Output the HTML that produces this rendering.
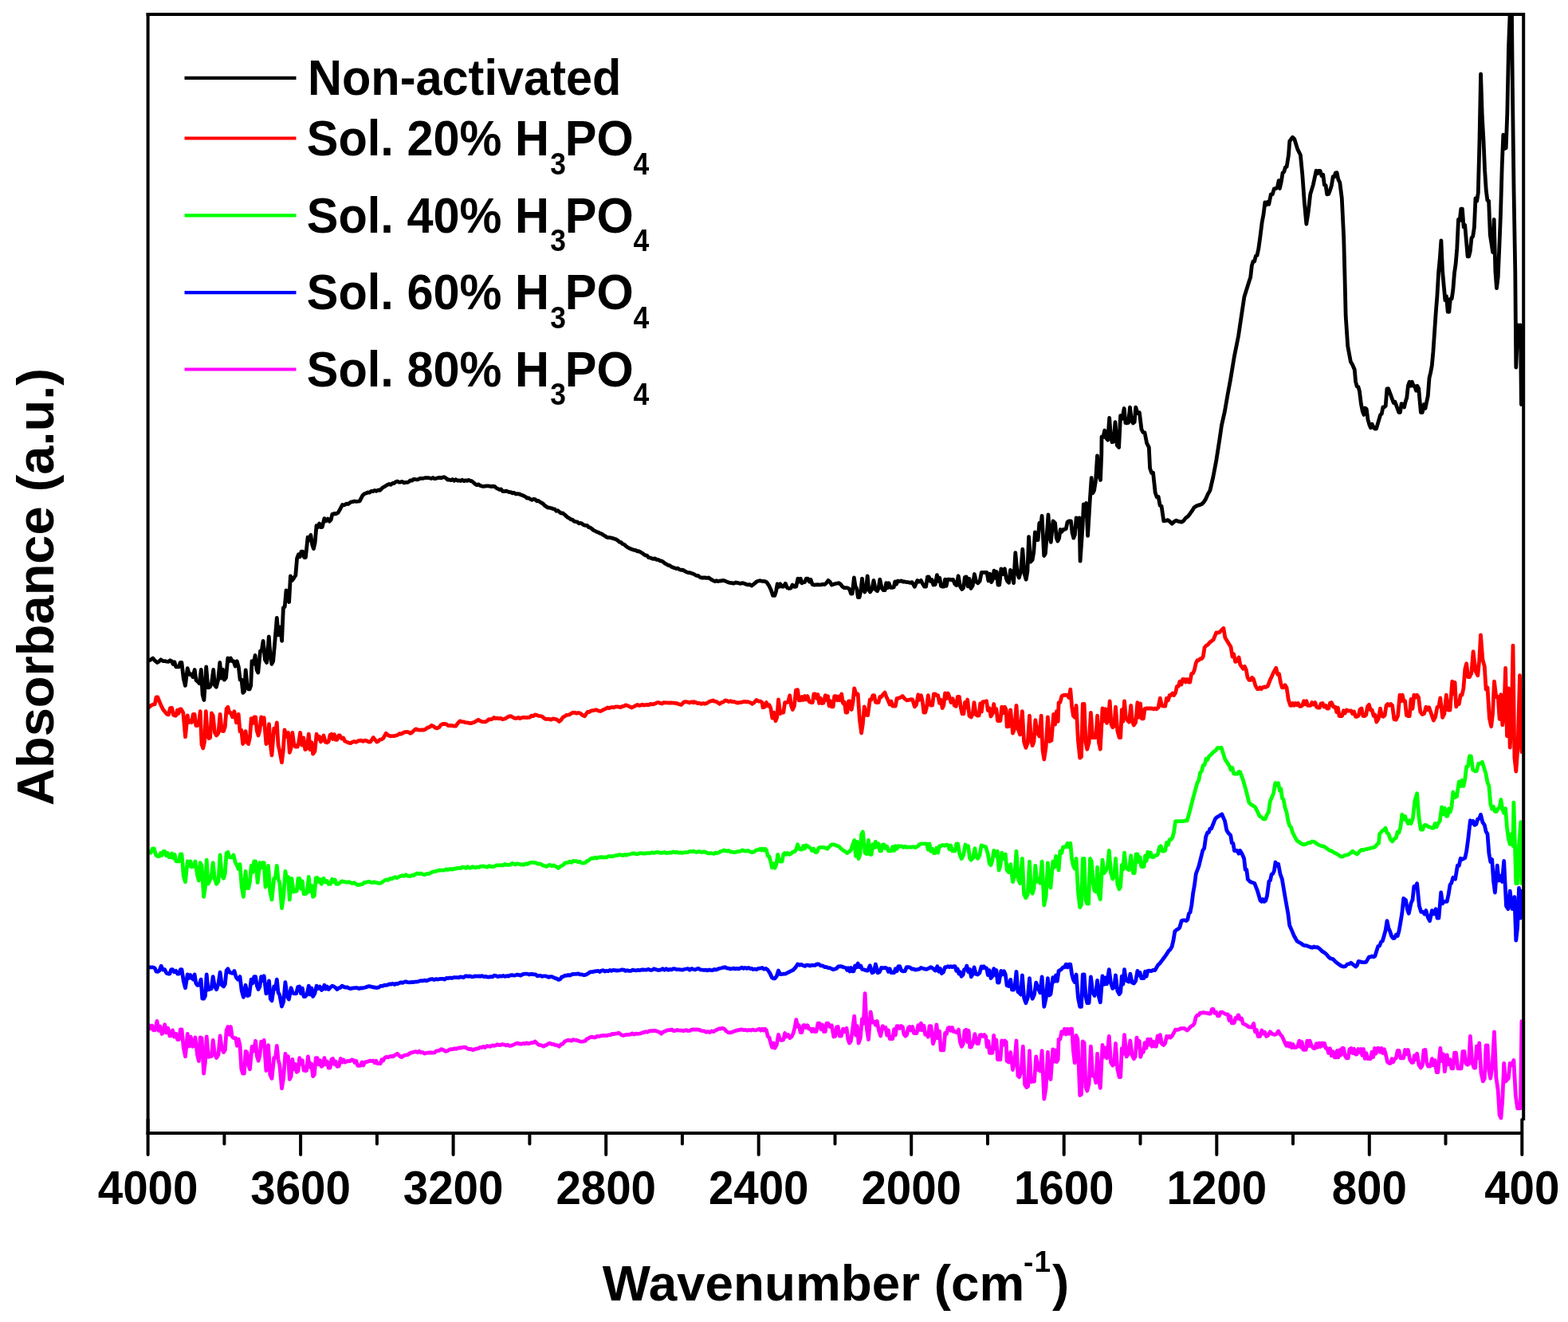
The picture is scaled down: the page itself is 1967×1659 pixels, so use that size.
<!DOCTYPE html>
<html><head><meta charset="utf-8"><style>
html,body{margin:0;padding:0;background:#fff;overflow:hidden;}
svg{display:block;}
text{font-family:"Liberation Sans",Arial,sans-serif;font-weight:bold;fill:#000;}
</style></head><body>
<svg width="1967" height="1659" viewBox="0 0 1967 1659">
<rect width="1967" height="1659" fill="#fff"/>
<defs><clipPath id="pc"><rect x="186" y="18" width="1725" height="1404"/></clipPath></defs>

<g clip-path="url(#pc)" fill="none" stroke-linejoin="round" stroke-linecap="round">
<path d="M187.1,1286.7 188.9,1290.8 190.7,1287.2 192.5,1292.9 194.7,1292.6 196.9,1281.4 199.0,1293.3 201.1,1288.1 203.1,1297.4 204.9,1295.4 206.7,1285.8 208.8,1296.0 210.8,1290.2 212.9,1300.0 214.7,1299.6 216.5,1292.9 218.6,1301.1 220.6,1297.2 222.7,1304.5 224.5,1304.5 226.3,1292.0 228.0,1292.0 230.3,1315.1 232.5,1325.8 235.2,1297.4 237.2,1313.2 239.3,1301.2 241.4,1313.4 243.2,1312.3 244.9,1301.8 247.6,1324.1 249.4,1331.5 251.2,1301.8 253.0,1302.7 255.6,1347.2 257.4,1332.8 259.2,1300.9 261.4,1326.4 263.6,1325.8 265.4,1325.5 267.2,1305.4 269.4,1322.5 271.6,1327.6 273.9,1323.7 276.1,1300.0 278.3,1316.2 280.5,1320.5 282.3,1317.7 284.1,1293.2 285.9,1288.5 287.7,1298.4 289.4,1288.5 291.2,1300.9 293.4,1302.7 295.7,1302.7 297.4,1312.3 299.2,1304.2 301.0,1311.6 302.8,1341.3 304.6,1347.2 306.3,1347.2 308.1,1319.3 309.9,1320.5 311.7,1336.8 313.5,1341.9 316.1,1313.4 318.3,1319.0 320.6,1306.3 322.3,1325.0 324.1,1331.2 325.9,1324.3 327.7,1307.2 329.5,1311.9 331.2,1305.4 333.9,1343.6 336.6,1311.6 338.8,1348.8 341.0,1353.4 343.7,1327.6 345.5,1327.0 347.3,1312.5 349.0,1329.6 350.8,1336.5 353.5,1365.9 355.7,1352.0 357.9,1322.3 359.7,1331.1 361.5,1325.8 363.3,1354.3 365.1,1350.8 366.8,1329.4 368.6,1341.9 370.4,1335.3 372.2,1345.4 374.0,1344.0 375.7,1327.6 377.5,1335.5 379.3,1330.8 381.1,1343.1 382.8,1343.6 384.6,1343.6 386.4,1325.8 388.5,1339.1 390.6,1334.8 392.6,1350.7 394.4,1348.5 396.2,1327.6 398.0,1327.6 399.8,1335.9 401.5,1330.6 403.3,1338.3 405.1,1336.8 406.9,1327.6 408.6,1335.8 410.4,1332.1 412.2,1340.1 414.0,1340.1 415.8,1329.6 417.5,1328.5 419.3,1335.4 421.1,1332.1 422.9,1338.3 425.1,1337.9 427.3,1328.5 429.1,1333.0 430.9,1329.9 432.7,1333.0 434.8,1332.1 436.9,1331.3 439.1,1331.6 441.2,1330.0 443.3,1330.3 445.1,1333.5 446.9,1331.5 448.7,1337.4 450.5,1337.4 452.2,1337.4 454.0,1333.0 455.8,1336.9 457.6,1333.0 459.7,1332.7 461.9,1332.0 464.0,1331.1 466.1,1331.5 468.3,1331.2 470.0,1333.8 471.8,1331.3 473.6,1334.7 475.4,1334.7 477.2,1334.7 478.9,1329.7 480.7,1330.9 482.5,1327.6 484.6,1326.4 486.8,1326.8 488.9,1325.8 491.0,1325.5 493.2,1325.8 495.8,1323.9 498.5,1322.3 501.2,1325.1 503.8,1326.7 506.0,1325.0 508.1,1324.1 510.2,1323.8 512.4,1323.3 514.5,1321.4 516.9,1320.9 519.3,1320.0 521.6,1319.6 523.7,1320.7 525.8,1319.2 527.9,1320.9 530.0,1320.5 532.5,1322.1 534.6,1321.5 536.7,1321.1 538.9,1320.8 541.0,1321.0 543.1,1321.2 545.3,1320.9 547.4,1318.8 549.5,1318.7 551.7,1317.9 553.8,1316.7 556.5,1317.8 559.1,1319.4 561.4,1318.8 563.6,1317.3 565.8,1316.6 568.0,1316.7 570.1,1315.8 572.1,1316.3 574.1,1315.5 576.2,1314.9 578.2,1315.0 580.2,1314.4 582.3,1314.1 584.4,1314.4 586.5,1316.0 588.7,1316.6 590.8,1316.4 593.0,1317.6 595.2,1316.9 597.4,1316.1 599.6,1315.9 601.9,1314.4 604.1,1314.6 606.3,1313.5 608.5,1314.5 610.7,1312.7 613.0,1312.9 615.2,1313.3 617.4,1311.9 619.6,1312.3 621.8,1311.9 623.9,1310.7 626.0,1311.5 628.2,1311.3 630.3,1310.5 632.5,1311.0 634.6,1311.9 636.7,1311.2 638.9,1312.3 641.0,1312.3 643.4,1311.4 645.7,1310.4 648.1,1309.3 650.1,1309.2 652.2,1310.0 654.2,1310.2 656.2,1309.4 658.3,1309.8 660.3,1308.8 662.3,1309.6 664.6,1309.3 666.8,1308.5 669.0,1308.5 671.2,1306.9 673.9,1309.7 676.6,1311.4 679.3,1311.9 681.9,1313.2 684.0,1311.8 686.1,1311.1 688.1,1309.6 690.2,1309.2 692.2,1310.4 694.2,1310.3 696.2,1311.4 698.8,1311.6 701.5,1313.2 703.7,1310.6 705.9,1310.1 708.2,1307.2 710.4,1306.0 712.5,1305.4 714.7,1305.5 716.8,1306.2 718.9,1304.6 721.1,1305.2 723.2,1305.4 725.3,1306.0 727.5,1306.9 729.6,1307.2 731.7,1306.9 734.0,1306.3 736.2,1303.9 738.4,1302.8 740.6,1301.6 742.8,1301.2 744.9,1301.9 747.0,1301.9 749.2,1300.3 751.3,1300.7 753.4,1299.9 755.4,1299.7 757.4,1299.5 759.5,1299.7 761.5,1299.6 763.5,1298.8 765.6,1298.9 767.7,1297.5 769.8,1297.7 772.0,1297.1 774.1,1296.9 776.2,1296.3 779.8,1298.9 782.0,1299.5 784.2,1298.8 786.5,1298.3 788.7,1298.3 790.9,1298.1 793.1,1296.8 795.4,1298.1 797.6,1297.2 799.7,1297.4 801.7,1297.2 803.8,1296.8 805.9,1295.8 808.0,1295.5 810.0,1294.7 812.1,1295.3 814.2,1294.0 816.3,1293.7 818.3,1293.7 820.4,1293.3 822.5,1293.6 824.9,1294.5 827.2,1295.2 829.6,1297.2 831.8,1295.1 834.1,1294.3 836.3,1293.1 838.5,1292.7 840.7,1292.6 842.9,1292.0 845.0,1293.7 847.2,1293.3 849.4,1292.6 851.6,1292.9 853.7,1293.1 855.9,1293.3 858.1,1293.6 860.5,1292.6 862.8,1293.5 865.2,1293.4 867.6,1292.1 870.0,1291.8 872.3,1292.2 874.5,1291.9 876.8,1292.3 879.1,1293.2 881.4,1293.8 883.6,1293.9 885.8,1295.3 888.0,1294.6 890.2,1295.6 892.6,1293.9 895.0,1294.7 897.4,1293.0 899.6,1292.3 901.8,1291.0 904.0,1291.0 906.3,1290.3 908.6,1291.2 911.0,1293.9 913.4,1295.6 915.6,1296.0 917.8,1295.4 920.1,1294.6 922.3,1293.8 924.5,1293.0 926.7,1292.7 929.0,1291.9 931.2,1292.1 933.3,1292.7 935.4,1292.5 937.6,1293.1 939.7,1292.5 941.9,1293.0 944.0,1292.1 946.1,1292.8 948.3,1292.8 950.4,1292.2 952.5,1291.2 954.3,1293.0 956.1,1291.2 957.9,1293.0 959.6,1291.2 961.4,1293.0 963.2,1300.5 965.0,1302.1 966.8,1309.0 968.5,1314.4 970.3,1309.0 972.1,1315.2 974.3,1311.1 976.5,1298.3 978.8,1305.1 981.0,1305.4 982.8,1304.8 984.6,1296.5 986.6,1300.9 988.7,1298.6 990.8,1302.7 993.0,1300.9 995.2,1296.5 997.0,1289.6 998.8,1279.6 1000.6,1288.2 1002.3,1286.9 1004.1,1295.6 1005.9,1295.6 1007.7,1286.7 1009.5,1286.7 1011.2,1289.7 1013.0,1286.7 1014.8,1291.2 1016.6,1291.2 1018.4,1294.4 1020.1,1291.2 1021.9,1294.7 1024.0,1294.5 1026.1,1284.1 1028.1,1284.1 1029.9,1291.7 1031.7,1286.0 1033.5,1294.7 1035.3,1294.7 1037.0,1284.1 1038.8,1284.1 1041.0,1288.4 1043.3,1286.7 1045.9,1301.0 1047.7,1300.5 1049.5,1288.9 1051.3,1288.5 1053.1,1300.1 1055.3,1300.1 1057.5,1291.2 1059.7,1294.5 1062.0,1290.3 1063.7,1303.9 1065.5,1309.0 1067.3,1306.7 1069.1,1294.7 1071.7,1275.2 1073.5,1299.1 1075.3,1287.5 1077.1,1309.0 1079.3,1302.6 1081.5,1278.7 1083.3,1284.3 1085.1,1246.7 1087.3,1290.9 1089.5,1304.5 1092.2,1269.8 1094.4,1283.2 1096.7,1282.3 1098.4,1286.2 1100.2,1281.4 1102.4,1293.0 1104.7,1300.1 1107.3,1287.6 1109.1,1290.4 1110.9,1289.4 1112.7,1299.1 1114.4,1292.8 1116.2,1303.6 1118.0,1303.6 1119.8,1303.6 1121.6,1291.7 1123.3,1298.8 1125.1,1287.6 1126.9,1287.6 1128.7,1290.3 1130.5,1287.6 1132.2,1288.5 1134.0,1298.1 1135.8,1300.1 1137.6,1298.6 1139.4,1289.8 1141.1,1288.5 1142.9,1293.0 1144.7,1288.5 1146.5,1296.5 1148.3,1296.5 1150.0,1296.5 1151.8,1286.7 1153.6,1292.4 1155.4,1284.1 1157.2,1292.9 1158.9,1287.1 1160.7,1298.3 1162.5,1298.3 1164.3,1301.3 1166.0,1287.6 1167.8,1287.6 1170.5,1309.9 1172.7,1302.8 1174.9,1285.8 1176.7,1302.9 1178.5,1294.0 1180.3,1317.9 1182.1,1317.9 1183.8,1317.9 1185.6,1296.5 1187.4,1297.4 1189.2,1290.2 1191.0,1289.4 1192.7,1293.2 1194.5,1289.4 1196.3,1294.7 1198.1,1294.7 1200.3,1295.9 1202.5,1292.1 1204.3,1307.3 1206.1,1312.5 1206.4,1313.2 1208.2,1310.0 1210.1,1293.5 1211.9,1292.2 1213.5,1307.6 1215.1,1293.5 1216.7,1314.1 1218.3,1314.1 1220.6,1309.0 1222.9,1297.7 1225.6,1309.5 1227.5,1309.5 1229.3,1298.9 1231.1,1298.6 1232.9,1300.4 1234.8,1298.6 1236.6,1300.4 1238.2,1313.8 1239.8,1306.6 1241.4,1321.4 1243.0,1321.4 1244.8,1321.4 1246.7,1299.5 1248.3,1316.1 1249.9,1305.2 1251.5,1329.7 1253.1,1329.7 1254.9,1329.7 1256.7,1305.9 1258.6,1311.3 1260.4,1305.9 1262.2,1307.7 1263.1,1331.5 1265.4,1332.9 1267.7,1320.5 1270.5,1342.5 1272.8,1332.4 1275.0,1305.9 1276.9,1349.8 1278.7,1351.6 1281.0,1344.6 1283.3,1313.2 1285.6,1361.1 1287.8,1364.5 1289.7,1363.0 1291.5,1318.7 1293.3,1357.7 1295.2,1357.1 1297.5,1357.1 1299.7,1326.0 1302.5,1342.5 1304.8,1344.0 1307.1,1318.7 1309.8,1379.1 1312.1,1365.2 1314.4,1320.5 1316.2,1351.5 1318.0,1354.4 1320.8,1316.9 1322.4,1332.2 1324.0,1318.0 1325.6,1332.5 1327.2,1329.7 1328.1,1304.1 1329.9,1304.0 1331.8,1294.8 1333.6,1297.1 1335.4,1291.2 1337.3,1298.0 1339.1,1291.2 1340.9,1297.4 1342.8,1291.2 1344.6,1291.2 1346.4,1318.7 1348.2,1333.8 1350.1,1299.5 1351.9,1304.1 1354.7,1374.5 1356.5,1373.5 1358.3,1307.0 1360.1,1308.6 1362.0,1364.3 1363.8,1369.0 1366.1,1360.1 1368.4,1313.2 1370.7,1350.2 1373.0,1349.8 1374.8,1358.7 1376.6,1322.4 1378.4,1355.3 1380.3,1365.4 1383.0,1311.4 1384.9,1326.0 1386.7,1315.0 1388.5,1327.8 1391.3,1300.4 1393.5,1333.4 1395.8,1337.0 1397.7,1335.2 1399.5,1309.5 1401.8,1341.6 1404.1,1351.6 1405.7,1351.6 1407.3,1315.6 1408.9,1322.6 1410.5,1298.6 1413.2,1326.0 1415.5,1322.6 1417.8,1305.9 1420.1,1323.9 1422.4,1328.8 1424.2,1325.8 1426.0,1302.2 1427.6,1312.9 1429.2,1306.3 1430.8,1326.3 1432.4,1320.5 1434.3,1320.5 1436.1,1308.7 1437.9,1315.2 1439.8,1304.1 1441.6,1311.1 1443.4,1304.1 1445.2,1313.2 1447.1,1307.2 1448.9,1313.2 1450.5,1313.2 1452.1,1300.1 1453.7,1307.5 1455.3,1298.6 1457.6,1309.9 1459.9,1311.4 1461.7,1308.9 1463.5,1300.4 1465.1,1302.1 1466.8,1300.4 1468.4,1302.1 1470.0,1300.4 1472.2,1296.8 1474.5,1292.2 1476.7,1292.4 1478.9,1291.9 1481.1,1290.6 1483.3,1290.7 1485.5,1290.3 1489.2,1293.1 1491.6,1290.7 1494.1,1288.0 1496.5,1286.7 1498.3,1284.3 1500.2,1276.4 1502.0,1273.9 1503.8,1273.9 1505.6,1271.1 1507.5,1271.1 1509.8,1270.5 1512.0,1271.2 1514.3,1271.4 1516.6,1272.0 1518.5,1272.0 1520.3,1266.5 1522.1,1266.5 1523.9,1271.3 1525.8,1270.3 1527.6,1274.8 1529.4,1274.8 1531.3,1270.2 1533.1,1270.2 1535.5,1271.5 1538.0,1272.9 1540.4,1272.9 1542.0,1280.5 1543.6,1275.5 1545.2,1283.9 1546.8,1283.9 1548.4,1283.4 1550.0,1277.5 1551.6,1278.3 1553.2,1273.9 1553.8,1274.1 1555.6,1279.1 1557.5,1278.0 1559.4,1284.6 1561.3,1285.4 1563.8,1286.6 1566.3,1288.7 1568.8,1289.2 1570.7,1289.2 1572.6,1284.5 1574.5,1294.9 1576.3,1292.5 1578.2,1300.5 1580.6,1300.5 1582.9,1293.0 1584.8,1297.0 1586.7,1295.3 1588.6,1300.5 1590.9,1299.1 1593.3,1294.8 1596.1,1297.6 1598.9,1298.6 1601.3,1297.6 1603.6,1293.9 1606.0,1298.0 1608.3,1300.5 1612.1,1308.9 1613.7,1312.3 1615.4,1308.9 1617.0,1313.1 1618.7,1309.5 1620.3,1314.6 1621.9,1310.5 1623.6,1314.6 1625.2,1314.6 1627.6,1313.4 1629.9,1306.1 1631.6,1314.1 1633.2,1307.6 1634.9,1317.4 1636.5,1317.4 1638.2,1317.4 1639.8,1306.1 1641.5,1312.7 1643.1,1306.1 1645.5,1312.9 1647.8,1315.5 1649.5,1315.5 1651.3,1309.6 1653.0,1314.3 1654.7,1309.1 1656.4,1313.5 1658.2,1308.9 1659.8,1312.1 1661.5,1309.2 1663.1,1315.5 1664.7,1315.5 1666.6,1321.4 1668.5,1315.8 1670.4,1324.9 1672.3,1319.7 1674.1,1326.8 1675.8,1326.8 1677.4,1318.5 1679.0,1326.8 1680.6,1317.7 1682.2,1324.0 1683.8,1315.5 1685.4,1315.5 1687.3,1325.0 1689.2,1327.8 1691.1,1327.8 1693.0,1316.5 1694.8,1315.5 1696.7,1321.6 1698.6,1316.3 1700.5,1323.1 1702.1,1323.1 1703.8,1316.5 1705.4,1320.4 1707.1,1316.5 1708.8,1324.3 1710.5,1316.5 1712.2,1328.3 1714.0,1321.8 1715.7,1328.7 1717.4,1328.7 1719.2,1328.7 1720.9,1320.3 1722.7,1326.5 1724.4,1315.5 1726.1,1322.2 1727.9,1315.5 1729.6,1315.5 1731.3,1320.2 1733.0,1315.5 1734.7,1321.6 1736.4,1316.8 1738.1,1322.1 1740.5,1332.6 1742.8,1334.3 1744.5,1334.3 1746.1,1328.7 1747.7,1332.8 1749.4,1328.7 1751.3,1328.0 1753.2,1318.5 1755.0,1318.4 1756.9,1327.8 1758.8,1327.8 1760.7,1327.8 1762.6,1317.5 1764.4,1322.8 1766.3,1317.4 1768.7,1330.0 1771.0,1333.4 1772.7,1333.4 1774.3,1324.6 1776.0,1329.5 1777.6,1322.1 1780.0,1336.6 1782.3,1340.0 1784.2,1337.1 1786.1,1317.8 1788.0,1317.4 1789.8,1334.3 1791.7,1338.1 1794.1,1338.1 1796.4,1328.7 1798.3,1336.8 1800.2,1330.6 1802.1,1345.5 1803.9,1345.6 1806.8,1315.5 1808.6,1331.6 1810.5,1322.8 1812.4,1344.7 1815.2,1324.0 1817.1,1335.8 1819.0,1329.6 1820.9,1340.9 1822.8,1340.9 1824.6,1321.2 1826.5,1321.2 1828.9,1340.9 1831.2,1340.9 1833.1,1340.9 1835.0,1319.3 1836.9,1319.3 1838.7,1334.2 1840.6,1336.2 1842.5,1335.4 1844.4,1300.5 1846.7,1333.0 1849.1,1340.0 1850.7,1340.0 1852.4,1313.0 1854.0,1327.5 1855.7,1308.9 1858.0,1346.4 1860.4,1356.9 1862.3,1353.6 1864.1,1311.8 1866.0,1311.8 1867.9,1344.2 1869.8,1353.2 1872.1,1337.6 1874.5,1294.8 1876.8,1351.7 1879.2,1368.2 1881.1,1399.1 1882.9,1403.0 1884.8,1380.5 1886.7,1334.3 1888.6,1357.0 1890.5,1355.0 1892.3,1353.3 1894.2,1334.3 1896.6,1336.7 1898.9,1330.6 1901.3,1374.2 1903.6,1390.8 1905.5,1390.8 1907.4,1390.8 1908.9,1281.7" stroke="#ff00ff" stroke-width="4.8"/>
<path d="M187.1,1214.0 189.5,1213.8 191.9,1213.9 194.2,1214.9 196.0,1219.1 197.8,1219.4 200.0,1217.9 202.2,1212.2 204.5,1217.2 206.7,1216.7 208.9,1221.2 211.1,1222.0 212.9,1222.0 214.7,1216.7 216.5,1216.7 218.6,1219.8 220.6,1218.4 222.7,1222.0 224.5,1222.0 226.3,1216.7 228.0,1216.7 230.3,1231.5 232.5,1239.8 235.2,1222.9 236.9,1227.5 238.7,1223.5 240.5,1227.4 242.3,1229.1 244.1,1222.9 245.8,1233.8 247.6,1236.3 249.8,1236.0 252.1,1229.1 253.8,1253.2 255.6,1253.2 257.4,1250.0 259.2,1222.9 261.0,1242.0 262.7,1241.6 265.0,1240.8 267.2,1225.6 269.4,1238.2 271.6,1241.6 273.9,1234.9 276.1,1220.2 278.3,1236.2 280.5,1238.0 282.3,1235.0 284.1,1218.1 285.9,1215.8 288.1,1220.3 290.3,1221.1 292.1,1221.3 293.9,1218.5 296.1,1226.2 298.3,1229.1 301.0,1225.6 303.2,1243.4 305.4,1251.4 308.1,1236.3 310.3,1249.7 312.6,1248.7 315.2,1229.1 317.0,1233.7 318.8,1225.6 320.6,1225.6 322.3,1237.0 324.1,1241.6 325.9,1238.2 327.7,1225.6 329.5,1230.5 331.2,1224.7 333.9,1246.9 335.7,1244.7 337.5,1230.9 339.3,1253.6 341.0,1255.8 343.7,1238.0 345.5,1240.7 347.3,1229.1 349.0,1245.4 350.8,1248.7 353.5,1263.0 355.7,1257.0 357.9,1232.7 360.2,1249.9 362.4,1254.1 365.1,1239.8 367.3,1246.3 369.5,1246.9 371.6,1246.9 373.7,1238.6 375.7,1238.0 377.5,1246.7 379.3,1240.1 381.1,1250.5 382.8,1250.5 385.1,1248.0 387.3,1237.2 389.1,1248.1 390.9,1240.0 392.6,1250.5 394.9,1246.5 397.1,1237.2 399.2,1240.5 401.2,1238.0 403.3,1242.5 405.1,1241.3 406.9,1236.3 408.6,1240.9 410.4,1238.0 412.2,1241.6 414.4,1239.2 416.7,1237.2 418.7,1238.0 420.8,1239.3 422.9,1241.6 425.0,1239.9 427.0,1239.4 429.1,1237.2 431.2,1238.4 433.4,1239.1 435.5,1238.8 437.7,1240.1 439.8,1240.7 441.9,1240.2 443.9,1239.8 446.0,1239.6 448.1,1239.6 450.2,1240.7 452.2,1239.8 454.5,1240.0 456.7,1239.5 458.9,1239.0 461.1,1238.0 463.2,1237.6 465.2,1238.0 467.2,1238.7 469.3,1239.0 471.3,1239.3 473.3,1239.5 475.4,1238.9 477.7,1237.3 480.1,1237.3 482.5,1236.3 484.5,1236.3 486.6,1235.8 488.6,1234.9 490.6,1235.2 492.7,1234.3 494.7,1235.5 496.7,1234.5 498.8,1234.7 500.9,1233.7 503.0,1232.8 505.0,1233.4 507.1,1232.4 509.2,1231.8 511.4,1232.7 513.6,1232.9 515.9,1232.5 518.1,1232.7 520.5,1232.2 522.8,1232.2 525.2,1231.5 527.6,1230.7 530.0,1230.9 532.6,1230.2 535.2,1230.8 537.8,1229.8 540.0,1228.8 542.2,1228.6 544.5,1229.5 546.7,1228.7 548.9,1229.0 551.1,1228.7 553.4,1228.3 555.6,1228.4 557.8,1229.1 560.0,1227.4 562.3,1227.6 564.5,1227.0 566.7,1227.5 568.9,1226.7 571.2,1226.6 573.4,1226.6 575.4,1226.9 577.4,1225.9 579.5,1226.2 581.5,1226.6 583.5,1225.0 585.6,1224.8 587.6,1225.4 589.8,1224.9 591.9,1225.9 594.0,1225.6 596.2,1224.9 598.3,1225.1 600.4,1224.8 602.6,1225.3 604.7,1224.6 606.8,1225.7 609.0,1225.4 611.2,1226.0 613.4,1226.1 615.6,1225.6 617.9,1225.9 620.1,1224.2 622.3,1224.6 624.5,1225.7 626.8,1224.8 629.0,1225.2 631.2,1224.5 633.4,1225.4 635.7,1224.7 637.9,1225.0 640.1,1223.9 642.3,1223.7 644.6,1224.1 646.7,1223.8 648.8,1223.1 651.0,1223.4 653.1,1224.2 655.2,1222.9 657.4,1222.2 659.5,1222.1 661.6,1222.1 663.8,1223.0 665.9,1222.3 667.9,1222.5 670.0,1222.8 672.0,1222.9 674.0,1224.9 676.1,1224.4 678.1,1224.4 680.1,1225.4 682.2,1224.8 684.2,1224.9 686.2,1225.3 688.3,1226.4 690.3,1225.6 692.3,1225.6 694.4,1226.6 696.5,1227.6 698.5,1228.1 700.6,1229.5 702.6,1229.0 704.6,1226.1 706.6,1225.5 708.6,1224.1 710.6,1224.4 712.7,1223.5 714.7,1224.2 716.7,1223.1 718.8,1222.4 720.8,1222.4 722.8,1222.3 725.1,1221.8 727.3,1222.8 729.5,1222.8 731.7,1223.6 733.8,1223.6 735.9,1222.8 738.0,1221.5 740.0,1220.0 742.1,1219.7 744.2,1219.5 746.3,1218.9 748.4,1218.6 750.4,1218.5 752.5,1219.5 754.6,1218.0 756.7,1217.6 758.7,1219.0 760.8,1218.2 762.9,1218.8 765.0,1217.5 767.0,1218.3 769.1,1217.4 771.3,1217.7 773.6,1218.0 775.8,1217.9 778.0,1217.5 780.2,1216.9 782.5,1217.1 784.7,1218.4 786.9,1217.7 789.1,1218.4 791.4,1218.3 793.6,1217.2 795.8,1217.6 798.0,1217.8 800.2,1217.4 802.5,1217.7 804.7,1217.0 806.9,1217.0 809.1,1217.2 811.4,1217.1 813.6,1216.3 815.8,1217.4 818.0,1217.4 820.3,1215.8 822.5,1216.5 824.7,1217.3 826.9,1217.3 829.2,1216.8 831.4,1215.7 833.6,1217.2 835.8,1215.8 838.1,1217.3 840.3,1216.5 842.5,1216.8 844.7,1215.7 847.0,1215.9 849.2,1216.7 851.4,1216.6 853.6,1216.9 855.9,1217.2 858.1,1216.5 860.5,1216.0 862.8,1215.6 865.2,1217.2 867.6,1215.6 870.0,1216.5 872.1,1216.9 874.2,1215.9 876.5,1215.4 878.7,1216.9 880.9,1217.1 883.1,1217.5 885.4,1217.1 887.6,1217.9 889.8,1216.9 892.0,1217.7 894.1,1217.5 896.1,1216.5 898.1,1217.0 900.2,1216.3 902.2,1215.3 904.2,1215.0 906.3,1214.5 908.3,1213.8 910.3,1214.0 912.3,1215.2 914.3,1215.2 916.3,1216.0 918.3,1215.7 920.3,1215.1 922.3,1215.9 924.4,1215.4 926.4,1215.9 928.5,1215.2 930.6,1214.1 932.7,1215.3 934.7,1214.5 936.8,1215.4 938.8,1214.3 940.8,1215.5 942.9,1215.5 944.9,1216.5 946.9,1216.0 949.0,1216.6 951.3,1215.4 953.7,1215.2 956.1,1214.5 958.5,1216.2 960.8,1215.5 963.2,1217.2 965.9,1221.4 968.5,1226.9 970.3,1227.8 972.1,1227.8 974.3,1225.0 976.5,1218.0 978.8,1222.6 981.0,1222.5 983.4,1222.1 985.7,1222.0 988.1,1220.7 990.5,1219.5 992.9,1218.2 995.2,1217.2 997.9,1214.2 1000.6,1210.0 1002.9,1211.1 1005.3,1210.4 1007.7,1211.8 1009.8,1212.4 1011.8,1211.1 1013.9,1211.2 1016.0,1212.1 1018.1,1211.2 1020.1,1211.3 1022.5,1211.4 1024.9,1209.9 1027.3,1210.0 1029.6,1211.9 1032.0,1211.8 1034.4,1213.6 1036.5,1213.4 1038.5,1214.5 1040.6,1214.6 1042.7,1215.4 1044.8,1216.5 1046.8,1216.3 1049.2,1215.5 1051.6,1213.0 1054.0,1212.7 1056.3,1213.0 1058.7,1214.0 1061.1,1214.5 1062.7,1217.4 1064.3,1214.7 1065.9,1218.9 1067.5,1214.6 1069.1,1218.9 1070.9,1218.9 1072.6,1212.0 1074.4,1213.9 1076.2,1209.1 1078.0,1213.5 1079.8,1212.0 1081.5,1216.3 1083.9,1216.8 1086.3,1217.8 1088.6,1218.0 1091.3,1211.8 1094.0,1220.7 1096.2,1219.7 1098.4,1210.0 1101.1,1220.7 1103.3,1219.7 1105.6,1214.5 1107.9,1214.8 1110.3,1214.3 1112.7,1215.4 1114.4,1219.2 1116.2,1215.8 1118.0,1220.7 1119.8,1220.7 1121.6,1220.7 1123.3,1215.8 1125.1,1218.7 1126.9,1212.7 1128.7,1212.7 1130.9,1218.1 1133.1,1218.9 1135.2,1218.7 1137.3,1213.7 1139.4,1213.6 1141.6,1214.0 1143.8,1216.0 1146.0,1216.0 1148.3,1217.2 1150.6,1216.7 1153.0,1216.2 1155.4,1214.5 1157.7,1215.3 1160.1,1216.0 1162.5,1216.3 1165.2,1215.1 1167.8,1213.6 1170.5,1215.5 1173.2,1218.0 1175.8,1212.7 1177.6,1219.2 1179.4,1215.5 1181.2,1221.6 1183.4,1220.1 1185.6,1213.6 1187.4,1213.6 1189.2,1212.7 1191.0,1213.6 1192.7,1212.7 1194.5,1213.6 1196.3,1212.7 1198.1,1212.7 1199.7,1218.4 1201.3,1216.0 1202.9,1222.0 1204.5,1219.9 1206.1,1225.2 1206.4,1224.8 1208.0,1223.5 1209.6,1216.6 1211.2,1216.6 1212.8,1212.0 1214.6,1219.5 1216.5,1216.4 1218.3,1225.8 1220.1,1222.7 1222.0,1213.9 1224.3,1222.4 1226.5,1223.0 1228.8,1221.0 1231.1,1212.9 1232.7,1214.8 1234.3,1212.9 1235.9,1214.8 1237.5,1214.8 1239.3,1223.6 1241.2,1217.6 1243.0,1227.6 1244.8,1225.4 1246.7,1215.7 1248.3,1223.6 1249.9,1217.5 1251.5,1233.1 1253.1,1233.1 1255.8,1218.4 1257.7,1222.9 1259.5,1218.8 1261.3,1223.0 1263.1,1236.7 1265.4,1237.5 1267.7,1229.4 1269.5,1242.2 1271.4,1242.2 1273.2,1237.1 1275.0,1219.3 1276.9,1244.6 1278.7,1245.9 1280.5,1248.1 1282.4,1223.9 1284.6,1252.1 1286.9,1258.7 1289.2,1252.4 1291.5,1227.6 1293.3,1247.0 1295.2,1253.2 1297.5,1248.0 1299.7,1233.1 1302.5,1240.4 1304.8,1245.8 1307.1,1225.8 1309.8,1263.3 1312.1,1253.0 1314.4,1227.6 1316.2,1249.1 1318.0,1247.7 1320.8,1226.7 1322.6,1231.7 1324.5,1224.0 1326.3,1231.2 1328.1,1218.4 1330.9,1216.9 1333.6,1213.9 1335.4,1213.9 1337.3,1210.2 1339.1,1213.9 1340.9,1210.2 1342.8,1210.2 1344.6,1222.6 1346.4,1229.4 1348.2,1232.5 1350.1,1223.0 1352.4,1251.7 1354.7,1263.3 1356.5,1263.3 1358.3,1223.0 1360.1,1223.0 1362.0,1250.6 1363.8,1258.7 1366.1,1258.5 1368.4,1225.8 1370.7,1245.1 1373.0,1249.5 1374.8,1245.8 1376.6,1230.3 1378.4,1250.6 1380.3,1257.8 1383.0,1224.8 1384.9,1235.4 1386.7,1226.9 1388.5,1234.9 1391.3,1216.6 1393.5,1233.6 1395.8,1240.4 1397.7,1238.7 1399.5,1223.9 1401.8,1243.3 1404.1,1247.7 1405.7,1245.4 1407.3,1225.1 1408.9,1235.1 1410.5,1216.6 1412.3,1229.8 1414.1,1231.2 1416.0,1232.1 1417.8,1222.1 1420.1,1233.1 1422.4,1234.0 1424.7,1230.8 1426.9,1218.4 1428.5,1223.7 1430.1,1220.4 1431.7,1227.6 1433.4,1227.6 1435.0,1227.6 1436.6,1219.3 1438.2,1225.2 1439.8,1218.4 1442.0,1218.1 1444.3,1218.7 1446.6,1217.4 1448.9,1217.5 1452.6,1211.1 1454.9,1209.0 1457.1,1206.1 1459.4,1203.0 1461.7,1200.0 1463.8,1196.9 1465.9,1193.4 1468.0,1191.6 1470.1,1188.1 1472.0,1179.9 1473.8,1168.8 1475.8,1166.9 1477.8,1165.9 1479.8,1164.0 1482.2,1155.5 1484.2,1154.9 1486.2,1154.8 1488.2,1155.5 1489.8,1154.0 1491.4,1146.4 1493.1,1144.7 1494.9,1135.4 1496.7,1120.6 1498.5,1110.5 1500.3,1096.5 1503.9,1086.8 1508.7,1067.5 1510.7,1064.4 1512.7,1050.2 1514.8,1044.6 1516.4,1044.6 1518.0,1039.8 1519.6,1039.8 1524.4,1027.7 1526.8,1025.3 1529.2,1024.1 1532.8,1021.7 1536.5,1030.1 1538.9,1042.2 1541.3,1045.8 1543.7,1048.2 1545.3,1057.8 1546.9,1058.3 1548.5,1067.5 1550.3,1067.5 1552.1,1067.5 1553.9,1071.2 1555.7,1067.5 1558.2,1071.8 1560.6,1077.2 1562.2,1091.4 1563.8,1091.4 1565.4,1103.7 1567.8,1106.2 1570.2,1107.3 1573.8,1108.5 1577.5,1118.2 1581.1,1130.2 1582.7,1131.4 1584.3,1128.5 1585.9,1131.4 1587.7,1130.3 1589.5,1124.2 1591.9,1106.1 1593.5,1104.7 1595.1,1097.3 1596.7,1096.5 1598.4,1093.0 1600.0,1082.0 1601.8,1086.2 1603.6,1084.2 1606.0,1096.9 1608.3,1103.1 1612.1,1125.6 1615.8,1146.3 1617.7,1161.3 1620.5,1167.6 1623.4,1174.5 1627.1,1181.0 1629.5,1182.6 1631.8,1183.6 1634.2,1185.5 1636.5,1186.7 1639.0,1186.6 1641.5,1187.8 1644.1,1188.6 1646.2,1189.3 1648.3,1188.0 1650.4,1188.8 1652.5,1188.6 1654.7,1190.1 1656.9,1192.0 1659.1,1194.2 1661.6,1195.5 1664.1,1197.7 1666.6,1200.8 1669.4,1203.0 1672.3,1203.6 1674.8,1206.4 1677.3,1208.5 1679.8,1210.2 1682.6,1212.2 1685.4,1213.0 1687.8,1212.7 1690.1,1210.0 1692.5,1209.6 1694.8,1208.3 1697.7,1210.7 1700.5,1213.0 1702.4,1211.5 1704.2,1206.4 1706.6,1206.8 1708.9,1207.7 1711.3,1207.6 1713.7,1207.4 1717.4,1200.8 1719.3,1200.8 1721.2,1199.8 1723.1,1200.8 1724.9,1199.8 1728.7,1187.6 1730.6,1187.0 1732.5,1182.0 1734.3,1181.0 1736.2,1174.5 1738.1,1167.7 1740.0,1155.6 1741.9,1164.6 1743.7,1168.8 1745.6,1174.8 1747.5,1177.3 1749.4,1177.3 1751.3,1172.9 1753.2,1174.5 1755.0,1168.3 1756.9,1157.5 1758.8,1145.9 1760.7,1127.5 1763.5,1129.4 1765.4,1141.2 1767.3,1146.3 1770.1,1133.2 1772.0,1129.2 1773.8,1112.5 1775.7,1112.7 1777.6,1108.7 1780.4,1136.9 1782.8,1144.4 1785.1,1144.4 1787.0,1147.1 1788.9,1142.6 1791.2,1151.2 1793.6,1155.7 1796.4,1142.6 1798.8,1147.0 1801.1,1140.7 1803.0,1152.0 1804.9,1152.0 1807.7,1120.0 1809.6,1133.9 1811.5,1131.3 1813.3,1131.3 1815.2,1131.3 1817.1,1122.5 1819.0,1110.6 1820.9,1107.8 1822.8,1101.2 1825.6,1103.1 1828.4,1086.1 1830.3,1086.3 1832.2,1077.3 1834.0,1078.6 1837.8,1076.7 1839.7,1068.1 1841.6,1054.1 1844.4,1029.7 1846.3,1033.2 1848.1,1030.4 1850.0,1035.3 1851.9,1034.2 1853.8,1027.8 1855.7,1027.2 1857.5,1022.2 1859.9,1031.8 1862.3,1035.3 1864.1,1043.5 1866.0,1046.6 1867.9,1071.1 1869.8,1081.6 1871.7,1078.6 1873.5,1105.4 1875.4,1120.0 1878.2,1086.1 1880.1,1105.1 1882.0,1099.3 1884.4,1106.5 1886.7,1080.5 1889.5,1136.9 1891.9,1140.7 1894.2,1118.1 1897.1,1140.7 1899.9,1125.6 1901.8,1180.2 1903.6,1163.8 1905.5,1114.3 1907.4,1152.0 1908.9,1118.1" stroke="#0000ff" stroke-width="4.8"/>
<path d="M187.1,1070.2 189.2,1070.2 191.3,1064.9 193.3,1064.9 195.6,1073.0 197.8,1074.7 199.6,1074.7 201.4,1070.6 203.1,1073.5 204.9,1068.5 206.7,1068.5 208.5,1073.8 210.2,1070.5 212.0,1075.6 213.8,1075.6 215.6,1071.1 217.4,1077.0 219.1,1072.3 220.9,1080.8 222.7,1080.9 224.5,1080.9 226.3,1072.0 228.0,1072.0 230.3,1099.7 232.5,1106.7 235.2,1080.9 236.9,1086.9 238.7,1080.9 240.5,1088.0 242.7,1087.3 244.9,1080.9 247.6,1098.7 249.4,1105.0 251.2,1082.6 253.0,1086.3 255.6,1125.4 257.4,1114.0 259.2,1079.1 261.0,1109.0 262.7,1105.8 265.0,1100.8 267.2,1082.7 269.4,1102.9 271.6,1109.4 273.9,1106.1 276.1,1072.9 278.3,1098.7 280.5,1102.3 282.3,1095.8 284.1,1070.6 285.9,1069.4 287.7,1075.6 289.4,1075.6 291.2,1076.1 293.0,1072.9 295.2,1082.2 297.4,1086.3 299.2,1090.5 301.0,1084.5 303.2,1112.8 305.4,1125.4 308.1,1093.4 309.9,1114.4 311.7,1114.7 313.5,1106.7 315.2,1086.3 317.0,1094.7 318.8,1080.9 320.6,1080.9 323.2,1107.6 325.9,1082.7 327.7,1089.2 329.5,1082.7 331.2,1082.7 333.0,1113.0 334.8,1110.7 336.6,1086.3 338.8,1118.9 341.0,1129.0 343.7,1102.3 345.5,1101.3 347.3,1086.3 349.0,1103.3 350.8,1107.6 353.5,1139.6 355.7,1124.9 357.9,1093.4 359.7,1102.5 361.5,1100.5 363.3,1129.0 365.9,1102.3 368.2,1119.2 370.4,1118.3 372.2,1118.3 374.0,1102.3 375.7,1102.3 377.5,1115.3 379.3,1105.8 381.1,1121.9 382.8,1121.9 385.1,1120.6 387.3,1100.5 389.1,1118.6 390.9,1111.4 392.6,1125.4 394.4,1124.0 396.2,1101.8 398.0,1101.4 399.8,1106.7 401.5,1103.4 403.3,1109.4 406.0,1102.3 408.1,1107.1 410.1,1105.5 412.2,1109.4 414.4,1109.3 416.7,1103.2 418.4,1106.8 420.2,1104.1 422.0,1109.4 423.8,1109.4 426.4,1107.8 429.1,1105.8 431.3,1106.5 433.6,1106.8 435.8,1107.3 438.0,1106.7 440.1,1107.8 442.2,1108.7 444.2,1107.7 446.3,1109.0 448.4,1110.5 450.5,1110.3 452.6,1109.8 454.7,1109.6 456.9,1107.5 459.0,1107.4 461.1,1106.7 463.2,1106.5 465.2,1107.3 467.2,1107.6 469.3,1106.9 471.3,1107.5 473.3,1107.9 475.4,1108.5 477.7,1108.1 480.1,1106.6 482.5,1104.9 484.7,1103.8 486.9,1104.4 489.2,1102.6 491.4,1102.9 493.6,1101.5 495.8,1100.7 498.1,1101.7 500.3,1100.5 502.5,1099.3 504.7,1098.7 507.0,1099.4 509.2,1097.8 511.9,1099.4 514.5,1099.6 516.7,1098.3 519.0,1098.7 521.2,1097.0 523.4,1096.0 525.6,1096.7 527.8,1096.1 530.0,1096.9 530.7,1097.4 532.8,1097.7 534.9,1096.7 537.1,1096.6 539.2,1096.0 541.4,1094.7 543.4,1094.0 545.4,1093.7 547.5,1093.0 549.5,1092.6 551.5,1092.0 553.6,1092.1 555.6,1092.1 557.6,1092.0 559.7,1090.7 561.7,1091.6 563.7,1090.8 565.8,1090.5 567.8,1091.1 569.8,1090.3 571.9,1090.0 574.0,1089.4 576.0,1089.4 578.1,1089.5 580.2,1088.0 582.3,1088.5 584.4,1089.4 586.4,1087.6 588.5,1089.0 590.6,1089.1 592.7,1087.6 594.7,1088.5 596.8,1088.9 598.8,1088.0 600.8,1088.3 602.9,1087.1 604.9,1087.1 606.9,1087.2 609.0,1087.6 611.2,1088.2 613.4,1086.6 615.6,1087.4 617.9,1087.5 620.1,1087.3 622.3,1086.0 624.5,1085.8 626.8,1085.8 629.0,1085.7 631.2,1085.9 633.4,1084.5 635.7,1085.4 637.9,1085.3 640.1,1085.1 642.3,1083.4 644.6,1084.1 646.7,1085.0 648.8,1083.7 651.0,1084.3 653.1,1085.0 655.2,1084.9 657.3,1085.3 659.4,1083.8 661.5,1084.4 663.5,1083.2 665.6,1082.4 667.7,1082.3 670.1,1082.5 672.4,1082.9 674.8,1084.1 677.0,1084.0 679.3,1084.8 681.5,1086.4 683.7,1086.7 685.8,1087.4 688.0,1085.8 690.1,1085.4 692.2,1086.9 694.4,1085.8 696.5,1087.1 698.5,1088.0 700.6,1089.4 702.6,1087.4 704.6,1086.5 706.6,1085.3 708.6,1083.2 710.6,1082.7 712.7,1082.3 714.7,1081.2 716.7,1082.4 718.8,1080.4 720.8,1080.9 722.8,1080.5 725.1,1081.8 727.3,1081.2 729.5,1082.9 731.7,1083.2 734.0,1082.6 736.2,1080.7 738.4,1079.7 740.6,1077.8 742.7,1076.8 744.7,1077.1 746.7,1076.2 748.8,1077.1 750.8,1075.8 752.8,1075.8 754.9,1075.5 756.9,1076.2 758.9,1075.8 761.0,1075.8 763.0,1074.7 765.0,1074.6 767.1,1074.9 769.1,1074.3 771.1,1074.0 773.2,1073.4 775.2,1073.3 777.2,1072.6 779.3,1072.8 781.3,1073.6 783.3,1072.5 785.5,1073.1 787.6,1072.4 789.8,1072.0 791.9,1071.5 794.0,1070.9 796.2,1071.0 798.3,1071.8 800.4,1071.7 802.6,1070.6 804.7,1070.7 806.9,1071.1 809.1,1071.0 811.4,1070.7 813.6,1070.6 815.8,1070.6 818.0,1069.8 820.3,1070.3 822.5,1069.8 824.7,1069.4 826.9,1069.8 829.2,1070.3 831.4,1070.2 833.6,1069.5 835.8,1070.6 838.1,1070.1 840.3,1069.8 842.5,1070.0 844.7,1068.9 847.0,1069.9 849.2,1069.4 851.4,1070.1 853.6,1069.8 855.9,1070.4 858.1,1069.8 860.5,1069.7 862.8,1069.6 865.2,1068.5 867.6,1068.7 870.0,1068.0 870.7,1068.7 872.8,1069.1 874.8,1069.3 876.9,1068.4 879.0,1069.3 881.1,1069.4 883.1,1068.7 885.2,1069.5 887.3,1070.5 889.4,1070.9 891.4,1070.5 893.5,1071.0 895.6,1071.4 897.7,1070.0 899.7,1070.5 901.8,1070.0 903.9,1068.4 906.0,1068.0 908.0,1066.9 910.1,1067.7 912.1,1068.1 914.1,1067.5 916.2,1069.0 918.2,1069.0 920.2,1069.5 922.3,1069.6 924.5,1068.8 926.7,1068.5 929.0,1068.1 931.2,1066.9 933.3,1067.6 935.3,1068.2 937.4,1067.4 939.5,1068.1 941.6,1069.1 943.6,1069.6 946.1,1068.8 948.5,1066.9 951.0,1066.6 953.4,1065.2 955.0,1066.9 956.6,1065.2 958.2,1066.9 959.8,1065.2 961.4,1066.9 963.2,1074.0 965.0,1074.9 966.8,1081.2 968.5,1088.9 970.3,1083.9 972.1,1089.2 973.9,1084.3 975.7,1072.3 977.4,1080.5 979.2,1081.2 981.0,1081.2 982.8,1071.9 984.6,1070.5 986.3,1072.3 988.1,1070.5 989.9,1072.3 992.3,1071.3 994.6,1069.1 997.0,1068.7 998.8,1065.9 1000.6,1059.8 1002.3,1064.9 1004.1,1066.0 1005.9,1066.0 1007.7,1061.4 1009.5,1064.9 1011.2,1060.7 1013.9,1062.4 1016.6,1064.3 1018.7,1067.5 1020.7,1065.1 1022.8,1069.6 1024.9,1069.3 1027.0,1064.0 1029.0,1063.4 1031.3,1063.3 1033.5,1063.5 1035.7,1064.1 1037.9,1065.2 1040.6,1062.2 1043.3,1059.8 1045.6,1059.8 1048.0,1060.5 1050.4,1061.6 1052.8,1062.5 1055.1,1065.1 1057.5,1066.9 1060.2,1068.5 1062.8,1070.5 1065.1,1068.9 1067.3,1066.9 1071.7,1054.5 1073.5,1074.3 1075.3,1056.4 1077.1,1077.6 1078.9,1072.1 1080.6,1047.1 1082.4,1043.8 1085.1,1070.5 1087.3,1071.7 1089.5,1054.5 1091.3,1072.3 1093.1,1072.3 1094.9,1059.7 1096.7,1063.7 1098.4,1056.3 1100.2,1063.0 1102.0,1058.7 1103.8,1067.8 1105.6,1067.8 1107.3,1059.8 1109.1,1059.8 1110.9,1064.6 1112.7,1062.2 1114.4,1067.8 1116.2,1067.8 1118.0,1067.8 1119.8,1062.6 1121.6,1067.5 1123.3,1061.8 1125.1,1065.2 1126.9,1061.6 1129.0,1062.1 1131.2,1061.8 1133.3,1063.4 1135.4,1062.1 1137.6,1063.4 1139.7,1063.2 1141.9,1063.0 1144.0,1063.2 1146.1,1062.7 1148.3,1063.4 1150.6,1062.5 1153.0,1060.2 1155.4,1058.9 1157.2,1058.9 1158.9,1058.9 1160.7,1058.9 1162.5,1058.9 1164.3,1066.2 1166.0,1058.9 1167.8,1068.4 1169.6,1065.2 1171.4,1070.5 1173.2,1070.5 1174.9,1064.0 1176.7,1070.1 1178.5,1061.6 1180.3,1061.6 1182.5,1060.5 1184.7,1061.4 1187.0,1060.2 1189.2,1060.7 1191.0,1065.8 1192.7,1061.0 1194.5,1067.8 1196.3,1067.8 1198.1,1067.8 1199.9,1058.9 1201.6,1058.9 1203.9,1072.1 1206.1,1077.6 1206.4,1077.4 1208.7,1072.6 1211.0,1060.0 1212.8,1063.2 1214.6,1061.8 1216.5,1076.9 1218.3,1079.2 1220.6,1076.7 1222.9,1064.6 1224.7,1075.0 1226.5,1077.4 1228.8,1073.7 1231.1,1060.9 1233.9,1061.9 1236.6,1062.8 1239.3,1071.9 1241.2,1083.5 1243.0,1085.6 1244.8,1080.7 1246.7,1067.3 1249.0,1074.0 1251.2,1068.2 1253.1,1092.0 1254.9,1086.7 1256.7,1070.1 1259.0,1077.7 1261.3,1071.9 1263.1,1092.0 1265.4,1094.6 1267.7,1084.7 1270.5,1106.7 1272.8,1099.1 1275.0,1068.2 1277.3,1103.2 1279.6,1108.5 1282.4,1077.4 1284.6,1122.3 1286.9,1126.8 1289.2,1122.7 1291.5,1081.1 1293.3,1117.3 1295.2,1121.3 1297.0,1115.3 1298.8,1086.5 1300.7,1106.4 1302.5,1103.0 1304.8,1108.2 1307.1,1081.1 1309.8,1136.0 1312.1,1125.0 1314.4,1082.9 1316.2,1107.1 1318.0,1114.0 1320.8,1081.1 1322.6,1088.5 1324.5,1074.5 1326.3,1082.9 1328.1,1092.0 1329.9,1068.2 1331.8,1070.4 1333.6,1062.8 1335.4,1062.8 1337.3,1062.8 1339.1,1058.2 1340.9,1062.8 1342.8,1058.2 1344.6,1078.3 1346.4,1086.5 1348.2,1090.1 1350.1,1077.4 1352.4,1118.8 1354.7,1138.7 1356.5,1135.6 1358.3,1077.4 1360.1,1077.4 1362.0,1129.8 1363.8,1134.1 1365.6,1134.1 1367.5,1077.5 1369.3,1081.1 1371.1,1107.6 1373.0,1117.7 1374.8,1119.2 1376.6,1088.4 1378.4,1122.8 1380.3,1128.6 1383.0,1079.2 1385.3,1095.5 1387.6,1092.0 1389.4,1088.1 1391.3,1067.3 1393.5,1095.0 1395.8,1103.0 1397.7,1099.7 1399.5,1077.4 1401.8,1109.6 1404.1,1115.8 1405.7,1112.4 1407.3,1085.5 1408.9,1091.2 1410.5,1070.1 1412.3,1088.0 1414.1,1090.2 1416.4,1091.8 1418.7,1073.7 1421.5,1095.7 1423.3,1095.6 1425.1,1071.9 1426.9,1071.9 1428.5,1081.9 1430.1,1075.6 1431.7,1087.5 1433.4,1087.5 1435.0,1087.5 1436.6,1074.0 1438.2,1080.5 1439.8,1069.2 1441.6,1075.0 1443.4,1070.1 1445.2,1075.6 1447.1,1075.6 1448.9,1073.7 1450.7,1073.7 1452.6,1071.6 1454.4,1063.0 1456.2,1061.8 1458.1,1068.0 1459.9,1068.2 1461.7,1067.3 1463.5,1057.5 1465.4,1060.1 1467.2,1053.6 1469.0,1053.6 1470.9,1050.9 1472.7,1043.8 1474.5,1030.7 1476.4,1030.7 1478.2,1030.7 1480.0,1030.7 1481.9,1030.7 1483.7,1030.7 1486.4,1030.0 1489.2,1029.8 1492.8,1017.0 1496.5,1002.4 1502.0,982.2 1503.8,979.2 1505.6,969.7 1507.5,967.6 1509.3,960.3 1511.1,960.0 1513.0,952.3 1514.8,953.5 1516.6,949.3 1519.4,946.7 1522.1,943.8 1524.9,941.9 1527.6,938.3 1529.9,938.9 1532.2,938.3 1536.8,952.9 1539.5,956.9 1542.2,961.2 1544.1,966.0 1545.9,963.5 1547.7,970.8 1549.6,971.2 1551.9,971.2 1554.1,968.5 1555.6,968.6 1559.4,978.9 1563.2,992.1 1566.9,1007.1 1569.4,1009.6 1571.9,1011.1 1574.5,1012.8 1577.3,1018.2 1580.1,1024.1 1582.4,1025.3 1584.8,1027.8 1587.2,1027.8 1589.5,1022.2 1591.4,1019.0 1593.3,1005.6 1595.1,1001.5 1597.5,995.9 1599.8,982.7 1601.7,985.5 1603.6,982.7 1605.3,992.2 1606.9,989.9 1608.5,1001.8 1610.2,1003.4 1612.1,1013.9 1614.0,1019.3 1615.8,1029.7 1617.7,1036.1 1619.6,1038.2 1621.5,1044.7 1624.3,1050.1 1627.1,1055.1 1629.5,1056.4 1631.8,1058.3 1634.2,1059.5 1636.5,1059.8 1638.9,1059.0 1641.2,1057.6 1643.6,1057.7 1645.9,1056.0 1648.4,1056.4 1650.9,1057.8 1653.5,1059.8 1655.8,1060.9 1658.2,1061.9 1660.5,1062.0 1662.9,1063.6 1665.2,1065.2 1667.6,1067.1 1669.9,1067.6 1672.3,1069.2 1674.6,1070.5 1677.0,1071.5 1679.3,1073.1 1681.7,1074.8 1684.2,1075.1 1686.7,1073.4 1689.2,1073.0 1691.7,1072.2 1694.2,1070.6 1696.7,1068.3 1699.5,1070.3 1702.4,1072.0 1705.2,1068.8 1708.0,1066.4 1710.5,1066.9 1713.0,1065.7 1715.5,1065.4 1718.0,1064.7 1720.5,1063.9 1723.1,1063.6 1725.2,1062.5 1727.4,1059.8 1729.6,1057.9 1730.6,1046.6 1733.1,1043.7 1735.6,1041.6 1738.1,1039.1 1740.0,1045.3 1741.9,1046.6 1744.2,1053.1 1746.6,1056.0 1749.4,1052.3 1751.3,1051.4 1753.2,1043.9 1755.0,1044.7 1756.9,1037.8 1758.8,1022.2 1760.7,1028.3 1762.6,1024.3 1764.4,1029.7 1766.3,1033.5 1768.2,1029.7 1770.1,1033.5 1772.4,1026.9 1774.8,1005.2 1777.6,995.8 1780.0,1025.9 1782.3,1041.0 1784.7,1041.0 1787.0,1035.3 1789.4,1035.6 1791.7,1037.4 1794.1,1038.1 1796.4,1039.1 1798.3,1039.1 1800.2,1033.5 1802.1,1037.7 1803.9,1033.5 1806.3,1030.1 1808.6,1012.8 1810.5,1021.7 1812.4,1014.1 1814.3,1024.1 1815.9,1024.1 1817.6,1014.8 1819.2,1019.1 1820.9,1012.8 1822.8,994.0 1825.1,1000.6 1827.5,999.6 1830.3,980.8 1832.2,986.6 1834.0,979.1 1835.9,986.4 1837.8,978.0 1839.7,962.0 1841.6,961.5 1843.4,949.0 1845.3,948.8 1847.7,966.1 1850.0,967.6 1852.4,967.6 1854.7,958.2 1857.1,958.2 1859.4,956.3 1864.1,971.4 1866.0,981.9 1867.9,986.4 1869.8,1009.0 1871.7,1015.2 1873.5,1012.3 1875.4,1018.4 1877.3,1018.4 1879.2,1014.6 1881.1,1013.7 1882.9,1003.4 1884.8,1015.9 1886.7,1020.3 1888.6,1014.6 1890.5,1038.7 1892.3,1052.3 1894.2,1059.4 1896.1,1046.6 1898.0,1061.7 1898.9,1007.1 1901.8,1108.7 1903.6,1108.7 1905.5,1061.7 1907.8,1031.6 1908.9,1108.7" stroke="#00ff00" stroke-width="4.8"/>
<path d="M187.1,887.4 189.8,885.1 192.5,883.8 194.2,883.8 196.0,874.9 197.8,874.9 200.0,880.3 202.2,885.6 204.9,890.9 207.1,893.4 209.4,896.3 211.4,896.9 213.5,888.6 215.6,888.3 217.4,897.1 219.1,898.0 220.7,898.0 222.3,891.3 224.0,895.4 225.6,890.0 227.2,890.0 229.8,894.5 232.5,924.7 235.2,898.0 236.9,906.6 238.7,905.2 240.5,906.6 242.3,896.3 244.1,896.3 245.8,910.5 247.6,910.5 249.4,908.4 251.2,892.7 253.0,934.2 254.7,939.0 256.5,931.1 258.3,892.7 260.1,922.2 261.9,926.5 263.6,925.9 265.4,895.0 267.2,898.0 269.4,919.2 271.6,923.0 273.9,920.1 276.1,896.3 278.3,917.2 280.5,917.6 282.3,912.0 284.1,889.4 285.9,887.4 287.7,894.5 289.4,894.5 291.7,899.7 293.9,892.7 296.5,906.9 299.2,896.3 301.0,917.9 302.8,916.1 304.6,933.6 306.3,930.5 308.1,917.6 309.9,931.4 311.7,933.6 313.5,925.3 315.2,901.6 317.0,907.7 318.8,899.8 320.6,899.8 322.3,917.2 324.1,923.0 325.9,916.1 327.7,899.8 329.5,908.7 331.2,900.7 333.9,933.6 335.7,931.8 337.5,908.7 339.3,935.3 341.0,947.9 343.7,914.1 345.5,918.5 347.3,906.9 349.0,934.4 350.8,942.5 353.5,956.8 355.3,941.8 357.0,915.8 359.3,924.3 361.5,919.4 363.3,944.3 365.1,938.8 366.8,919.4 368.6,932.8 370.4,937.2 373.1,937.2 374.8,931.4 376.6,919.4 378.7,935.2 380.8,925.9 382.8,940.7 385.1,939.0 387.3,921.2 389.1,940.9 390.9,931.7 392.6,946.1 394.9,942.9 397.1,921.2 398.9,927.2 400.6,924.3 402.4,931.0 404.2,929.0 406.0,923.0 408.2,931.3 410.4,931.9 412.2,930.5 414.0,922.3 415.8,921.2 417.5,927.5 419.3,921.6 421.1,928.3 422.9,928.3 424.7,923.0 426.4,923.0 428.5,927.0 430.6,925.9 432.7,930.1 435.0,931.1 437.4,932.1 439.8,932.7 442.0,931.3 444.2,930.5 446.5,931.3 448.7,930.1 450.9,929.4 453.1,929.1 455.4,930.3 457.6,929.2 460.0,929.7 462.3,931.0 464.7,931.0 468.3,925.6 470.5,928.2 472.7,931.0 474.7,930.1 476.7,928.1 478.7,927.9 480.7,926.5 484.3,920.3 486.9,922.7 489.6,923.8 492.0,923.6 494.4,923.7 496.7,923.0 498.8,922.5 500.9,920.7 503.0,921.2 505.0,920.2 507.1,918.9 509.2,918.5 511.9,918.6 514.5,920.3 516.9,919.2 519.3,916.7 521.6,914.9 523.7,915.6 525.8,916.1 527.9,916.0 530.0,915.8 532.1,916.0 534.2,914.7 536.6,913.1 539.0,912.3 541.4,910.3 543.7,911.4 546.1,913.4 548.5,913.8 550.8,912.7 553.2,909.6 555.6,908.5 557.8,908.3 560.0,908.9 562.3,910.7 564.5,910.3 566.9,910.5 569.2,911.1 571.6,911.2 574.3,907.7 576.9,904.9 579.3,905.6 581.7,905.9 584.1,906.7 586.4,906.8 588.8,907.5 591.2,907.6 593.4,906.7 595.6,906.1 597.8,904.6 600.1,903.2 602.4,904.8 604.8,905.6 607.2,905.8 609.3,905.8 611.3,904.4 613.4,902.6 615.5,902.9 617.6,902.2 619.6,900.5 621.7,901.5 623.8,901.2 625.9,901.8 627.9,901.2 630.0,902.6 632.1,902.3 634.3,901.5 636.5,900.1 638.8,898.8 641.0,898.7 643.4,900.2 645.7,901.4 648.1,901.4 650.2,900.5 652.3,901.6 654.3,900.8 656.4,900.2 658.5,900.3 660.6,900.5 662.6,900.4 664.7,900.1 666.8,898.1 668.9,898.6 670.9,897.0 673.0,897.3 675.7,898.4 678.4,898.7 680.4,899.3 682.4,901.2 684.4,902.3 686.4,902.3 688.8,902.3 691.3,903.2 693.7,901.9 696.2,902.3 698.8,903.1 701.5,905.5 703.9,903.4 706.2,900.1 708.6,898.7 710.7,897.4 712.8,897.1 714.8,896.7 716.9,895.1 719.0,894.2 721.1,894.3 723.4,895.2 725.8,894.5 728.2,895.2 730.9,897.8 733.5,898.7 737.1,893.4 739.2,893.6 741.4,892.1 743.5,891.7 745.6,891.3 747.8,890.7 750.4,891.9 753.1,892.5 755.3,891.6 757.5,890.4 759.8,889.4 762.0,888.0 764.0,888.7 766.1,887.8 768.1,887.5 770.1,887.9 772.2,886.9 774.2,886.9 776.2,887.2 778.4,887.7 780.5,886.5 782.6,886.2 784.8,884.9 786.9,885.4 789.6,886.6 792.2,888.0 794.9,886.9 797.6,885.4 799.6,884.4 801.6,885.3 803.7,885.2 805.7,884.1 807.7,885.0 809.8,884.6 811.8,884.5 814.0,884.5 816.1,883.5 818.2,883.8 820.4,883.5 822.5,882.7 824.5,881.7 826.6,881.7 828.6,882.6 830.6,883.0 832.7,881.6 834.7,881.9 836.7,881.8 838.8,882.1 840.9,881.8 843.0,882.0 845.0,882.1 847.1,882.3 849.2,882.7 851.9,883.8 854.5,884.5 858.1,880.9 860.5,880.7 862.8,881.1 865.2,881.9 867.6,880.8 870.0,881.8 870.7,880.7 872.9,881.5 875.1,882.5 877.3,882.4 879.6,883.4 881.9,882.6 884.3,883.3 886.7,882.5 888.7,881.1 890.7,880.1 892.7,879.7 894.7,878.9 896.7,880.4 898.7,880.4 900.7,881.9 902.7,883.4 905.1,881.6 907.4,881.0 909.8,878.9 912.0,879.3 914.3,880.5 916.5,879.7 918.7,880.7 920.9,880.6 923.2,881.4 925.4,882.1 927.6,881.6 929.8,881.3 931.9,880.8 934.0,880.4 936.2,880.9 938.3,880.7 941.0,881.5 943.6,883.4 946.3,881.4 949.0,878.4 951.3,880.1 953.7,880.0 956.1,881.6 957.0,887.8 959.2,887.1 961.4,881.6 963.2,885.7 965.0,884.8 966.8,888.7 968.8,901.2 970.9,894.1 973.0,904.7 974.8,899.8 976.5,878.0 978.8,895.6 981.0,894.1 982.8,894.1 984.6,881.6 986.3,881.6 988.6,881.2 990.8,872.7 992.6,886.0 994.3,890.5 996.4,886.0 998.5,866.0 1000.6,865.6 1002.3,878.9 1004.1,878.9 1005.9,874.4 1007.7,878.4 1009.5,873.6 1011.2,878.0 1013.0,873.6 1015.2,880.6 1017.5,881.6 1019.3,881.6 1021.0,870.9 1022.8,870.9 1024.4,876.3 1026.0,871.6 1027.6,882.5 1029.2,876.2 1030.8,882.5 1033.0,882.2 1035.3,872.7 1036.9,878.6 1038.5,873.6 1040.1,885.9 1041.7,879.7 1043.3,886.9 1045.1,886.9 1046.8,873.6 1048.6,873.6 1050.4,878.8 1052.2,873.9 1054.0,878.9 1055.7,870.9 1057.5,882.5 1059.3,881.2 1061.1,894.1 1062.8,894.1 1064.6,879.8 1066.4,879.8 1068.2,890.5 1070.0,881.1 1071.7,863.8 1074.0,871.6 1076.2,870.9 1078.4,903.3 1080.6,919.9 1082.4,908.1 1084.2,886.9 1086.4,897.2 1088.6,897.6 1091.3,878.0 1093.1,878.1 1094.9,872.7 1096.7,872.7 1098.4,881.1 1100.2,881.6 1102.0,881.6 1103.8,874.5 1105.6,874.5 1107.8,871.4 1110.0,869.1 1112.2,875.0 1114.4,879.8 1116.2,884.0 1118.0,880.1 1119.8,886.0 1121.6,886.0 1123.3,886.0 1125.1,876.3 1126.9,876.3 1129.6,875.2 1132.2,873.6 1134.9,876.8 1137.6,878.9 1140.0,878.4 1142.3,877.7 1144.7,878.0 1147.4,886.9 1149.6,884.1 1151.8,871.8 1153.6,878.3 1155.4,872.6 1157.2,879.8 1158.9,894.1 1160.7,894.1 1162.5,887.5 1164.3,872.7 1166.0,883.5 1167.8,885.2 1169.6,885.2 1171.4,870.9 1173.2,870.9 1174.9,872.7 1176.7,872.7 1178.5,882.4 1180.3,878.2 1182.1,888.7 1183.8,885.3 1185.6,870.0 1187.4,876.6 1189.2,870.0 1191.0,874.5 1193.0,881.6 1195.1,876.7 1197.2,885.2 1199.3,886.3 1201.3,874.5 1203.4,874.5 1205.2,887.6 1207.0,895.8 1207.3,894.5 1208.9,895.7 1210.5,881.3 1212.1,887.7 1213.7,878.0 1216.0,898.5 1218.3,899.9 1220.1,896.3 1222.0,881.6 1224.3,896.9 1226.5,898.1 1228.1,897.9 1229.7,883.0 1231.3,893.1 1232.9,880.7 1235.2,880.7 1237.5,879.8 1239.3,891.5 1241.2,888.7 1243.0,899.0 1244.8,896.0 1246.7,883.5 1248.3,893.5 1249.9,889.8 1251.5,904.5 1253.1,904.5 1254.9,904.5 1256.7,887.1 1258.6,894.9 1260.4,887.1 1262.2,890.8 1263.1,911.8 1265.4,911.6 1267.7,890.8 1270.5,920.1 1272.8,914.4 1275.0,885.3 1277.3,915.3 1279.6,921.9 1282.4,892.6 1284.6,931.0 1286.9,938.4 1289.2,932.5 1291.5,898.1 1293.3,927.8 1295.2,935.6 1297.0,930.4 1298.8,903.6 1301.6,920.1 1303.9,924.0 1306.2,898.1 1308.0,941.6 1309.8,953.0 1312.1,937.3 1314.4,899.9 1316.7,930.4 1319.0,929.2 1321.7,896.3 1323.5,909.1 1325.4,892.7 1327.2,905.4 1328.1,881.6 1329.9,881.5 1331.8,873.9 1333.6,872.5 1336.3,872.1 1339.1,872.5 1340.9,875.4 1342.8,865.2 1344.6,886.8 1346.4,898.1 1348.2,900.2 1350.1,885.3 1352.4,929.1 1354.7,951.2 1356.5,949.6 1358.3,883.5 1360.1,883.5 1362.0,931.8 1363.8,940.2 1366.1,931.9 1368.4,894.5 1370.7,925.7 1373.0,925.6 1374.8,925.4 1376.6,898.1 1378.4,931.4 1380.3,940.2 1383.0,889.0 1384.9,904.8 1386.7,889.6 1388.5,907.3 1390.3,902.4 1392.2,879.8 1394.0,908.9 1395.8,912.8 1397.7,911.0 1399.5,887.1 1401.8,917.0 1404.1,925.6 1405.7,925.6 1407.3,890.7 1408.9,905.4 1410.5,879.8 1412.3,900.7 1414.1,903.6 1416.4,906.1 1418.7,885.3 1420.5,905.5 1422.4,910.0 1424.7,906.4 1426.9,881.6 1428.8,900.2 1430.6,883.0 1432.4,901.8 1434.3,901.8 1436.1,889.6 1437.9,889.0 1439.8,889.0 1441.6,889.0 1443.4,889.0 1445.2,889.0 1447.1,889.9 1448.9,889.0 1450.7,889.9 1453.0,888.0 1455.3,876.2 1457.6,885.7 1459.9,886.2 1461.7,886.2 1463.5,876.3 1465.4,878.9 1467.2,872.5 1469.0,872.5 1470.9,870.1 1472.7,872.5 1474.5,869.6 1476.4,861.5 1478.2,861.4 1480.0,855.1 1481.9,859.1 1483.7,852.5 1485.5,852.4 1487.3,856.0 1489.2,852.4 1491.0,856.0 1492.8,856.0 1494.7,845.3 1496.5,845.0 1498.3,841.0 1500.2,832.2 1502.0,828.6 1503.8,828.6 1505.6,826.7 1507.5,826.7 1509.3,823.9 1511.1,812.5 1513.0,810.3 1515.3,809.0 1517.5,806.2 1519.8,804.5 1522.1,802.9 1525.8,793.8 1529.4,793.8 1532.2,790.9 1534.9,788.3 1536.8,799.9 1538.6,802.9 1541.3,807.4 1544.1,812.1 1545.9,824.0 1547.7,820.8 1549.6,830.4 1551.9,829.5 1554.1,824.9 1555.8,834.1 1557.5,836.4 1559.4,839.2 1561.3,836.3 1563.2,840.2 1565.0,850.0 1566.9,853.4 1568.8,853.4 1570.7,850.2 1572.6,852.4 1574.9,860.3 1577.3,864.6 1578.9,864.6 1580.6,862.8 1582.2,864.6 1583.9,862.8 1586.1,862.0 1588.2,862.3 1590.4,860.9 1592.8,854.6 1595.1,849.6 1598.0,843.1 1600.8,838.3 1602.7,846.3 1604.6,845.8 1606.4,856.1 1608.3,862.8 1610.2,862.8 1612.1,859.8 1614.0,862.8 1616.3,877.9 1618.7,885.3 1620.3,885.3 1621.9,882.5 1623.6,885.3 1625.2,882.5 1626.9,884.7 1628.5,882.5 1630.2,886.3 1631.8,886.3 1633.7,885.3 1635.6,879.7 1637.2,883.7 1638.9,879.7 1640.5,885.3 1642.2,885.3 1644.1,885.3 1645.9,881.6 1647.8,884.1 1649.7,881.6 1651.6,887.1 1653.5,888.2 1655.3,888.2 1657.2,882.8 1659.1,882.5 1661.0,887.0 1662.9,885.2 1664.7,889.1 1666.6,889.1 1668.5,882.3 1670.4,881.6 1672.7,887.0 1675.1,887.2 1676.7,893.5 1678.4,888.2 1680.0,898.5 1681.7,898.5 1683.6,898.5 1685.4,891.8 1687.3,894.9 1689.2,891.0 1692.0,892.2 1694.8,891.9 1696.7,895.7 1698.6,893.1 1700.5,899.4 1702.4,899.4 1704.2,898.1 1706.1,890.1 1708.0,889.1 1709.9,898.4 1711.8,898.5 1713.7,897.0 1715.5,886.5 1717.4,884.4 1719.3,891.0 1721.2,891.0 1723.1,898.2 1724.9,897.1 1726.8,906.0 1729.2,902.0 1731.5,889.1 1733.4,898.4 1735.3,899.4 1737.2,897.5 1739.0,885.5 1740.9,883.5 1742.8,885.3 1744.7,883.5 1746.6,885.3 1748.9,902.6 1751.3,903.2 1753.6,898.3 1756.0,872.2 1757.6,879.7 1759.3,872.2 1760.9,879.7 1762.6,879.7 1764.4,897.6 1766.3,898.5 1768.2,898.5 1770.1,877.3 1772.0,889.3 1773.8,872.2 1775.7,875.0 1777.6,872.2 1779.5,875.0 1781.8,893.4 1784.2,896.6 1786.5,895.6 1788.9,887.2 1790.8,890.8 1792.7,887.8 1794.5,892.9 1798.3,904.1 1800.6,899.8 1803.0,887.2 1804.9,886.7 1806.8,875.9 1809.6,900.4 1811.9,895.6 1814.3,872.2 1816.6,891.0 1819.0,891.0 1821.8,855.2 1823.5,870.6 1825.1,856.5 1826.7,886.9 1828.4,883.5 1830.3,883.5 1832.2,872.2 1834.0,872.2 1835.9,864.0 1837.8,839.8 1839.7,832.7 1841.6,849.6 1843.4,849.6 1845.8,845.1 1848.1,817.6 1851.0,842.1 1853.8,847.7 1855.7,828.8 1857.5,796.9 1859.9,827.7 1862.3,836.4 1864.1,865.1 1866.0,862.8 1868.4,901.3 1870.7,911.7 1872.6,895.5 1874.5,855.2 1876.8,874.6 1879.2,874.1 1881.1,902.4 1882.9,871.6 1884.8,909.8 1886.7,896.0 1888.6,838.3 1890.5,923.7 1892.3,863.9 1894.2,938.0 1896.1,905.0 1898.0,810.1 1899.9,950.8 1901.8,968.1 1904.1,936.5 1906.5,847.7 1908.9,943.7" stroke="#ff0000" stroke-width="4.8"/>
<path d="M187.2,828.8 189.5,827.6 191.8,826.0 194.5,829.2 197.2,831.5 199.4,830.2 201.7,827.8 204.4,829.5 207.1,829.7 209.2,830.1 211.2,830.4 213.2,828.8 215.3,829.7 217.1,833.6 218.9,830.8 220.7,836.9 222.5,836.9 224.3,836.9 226.1,831.5 227.9,831.5 230.2,851.3 232.4,860.4 235.2,838.7 237.4,846.4 239.7,845.9 241.9,849.6 244.2,840.5 246.0,853.6 247.8,855.0 250.1,857.7 252.3,840.5 254.1,871.8 255.9,878.5 258.7,836.9 260.9,862.9 263.2,862.2 265.4,857.7 267.7,840.5 269.5,860.1 271.3,862.2 273.6,853.4 275.8,831.5 277.6,851.1 279.5,840.2 281.3,853.2 283.5,850.5 285.8,826.0 287.6,829.7 289.4,826.0 291.2,829.7 293.0,829.7 295.1,836.1 297.2,829.7 299.3,836.9 301.2,853.1 303.0,852.9 304.8,869.4 306.5,867.6 308.2,841.0 309.8,858.0 311.5,864.9 313.1,864.9 314.7,860.4 316.0,829.7 318.1,833.1 320.1,822.4 322.0,840.3 323.8,844.1 326.5,817.0 328.3,816.4 330.1,804.3 332.4,827.7 334.6,831.5 337.3,798.9 339.1,823.3 340.9,833.3 342.7,829.6 344.6,808.0 347.3,775.4 349.4,796.9 351.5,787.0 353.6,804.3 355.4,762.7 357.2,761.5 359.0,741.0 360.8,752.2 362.6,755.5 364.4,723.0 366.7,728.2 369.0,724.8 370.8,722.0 372.6,700.6 374.4,695.8 376.2,698.8 378.0,692.2 379.8,692.2 381.6,699.5 383.4,699.5 386.1,674.1 388.0,677.9 389.8,671.4 391.6,683.2 393.4,688.6 395.2,680.6 397.0,659.7 398.8,661.5 400.6,657.0 402.4,661.5 404.2,661.5 406.9,650.6 409.1,653.8 411.2,651.1 413.3,654.2 415.1,652.3 416.9,645.2 419.3,644.5 421.7,644.8 424.1,643.4 426.8,638.7 429.5,633.5 432.0,633.9 434.4,632.2 436.8,632.5 440.4,629.8 442.6,629.6 444.7,629.0 446.9,629.4 449.1,629.2 451.2,628.9 454.9,621.7 457.0,619.7 459.2,619.0 461.4,618.0 463.5,618.1 465.7,616.3 467.9,616.6 470.1,615.3 472.2,616.3 474.4,614.9 476.6,615.4 480.0,611.8 482.1,610.8 484.2,609.5 486.3,608.2 488.3,607.4 490.3,608.3 492.4,606.5 494.4,606.4 496.4,604.7 498.5,604.0 500.5,605.1 502.5,605.1 504.6,604.3 506.6,605.8 508.6,605.3 510.7,605.4 512.7,604.7 514.7,602.9 516.8,603.2 518.8,601.4 520.8,601.5 522.9,601.9 524.9,601.6 526.9,600.3 529.0,600.3 531.0,600.3 533.0,599.7 535.1,599.7 537.1,599.6 539.1,600.0 541.2,600.5 543.2,599.4 545.2,600.7 547.3,600.3 549.3,599.7 551.3,599.3 553.4,599.9 555.4,599.0 557.4,598.7 559.5,600.0 561.5,602.0 563.5,602.0 565.6,602.6 567.6,601.5 569.6,603.3 571.7,601.7 573.7,603.1 575.7,602.8 577.8,603.5 579.8,602.1 581.8,603.6 583.9,602.9 585.9,603.4 587.9,602.4 590.0,603.4 592.0,603.9 594.0,605.5 596.1,607.5 598.1,608.7 600.1,607.8 602.2,609.2 604.2,610.0 606.2,610.5 608.3,610.1 610.3,609.8 612.3,609.8 614.4,610.1 616.4,610.6 618.4,610.1 620.5,610.3 622.5,612.4 624.6,613.4 626.6,614.5 628.6,613.9 630.7,616.5 632.7,616.6 634.7,616.1 636.8,616.8 638.8,617.6 640.8,617.6 642.9,618.9 644.9,618.3 646.9,619.9 649.0,619.7 651.0,619.8 653.0,620.7 655.1,621.5 657.1,622.3 659.1,623.3 661.2,625.1 663.2,625.0 665.2,626.4 667.3,627.4 669.3,626.4 671.3,626.7 673.4,628.8 675.4,628.4 677.4,630.0 679.5,631.2 681.5,632.4 683.5,634.6 685.6,635.9 687.6,637.2 689.6,637.2 691.7,637.8 693.7,638.6 695.7,638.8 697.8,641.3 699.8,640.7 701.8,642.5 703.9,644.1 705.9,643.8 707.9,645.5 710.0,647.4 712.0,649.2 714.0,650.1 716.1,651.8 718.1,652.1 720.1,654.2 722.2,654.7 724.2,654.9 726.2,656.8 728.3,656.4 730.3,657.3 732.3,658.9 734.4,659.3 736.4,659.3 738.4,661.6 740.5,662.1 742.5,663.6 744.5,665.4 746.6,666.4 748.6,667.4 750.6,668.1 752.7,669.3 754.7,669.9 756.7,671.3 758.8,672.5 760.8,674.0 762.8,674.6 764.9,674.6 766.9,675.0 768.9,675.6 771.0,676.3 773.0,676.9 775.0,678.2 777.1,680.2 779.1,680.7 781.1,682.7 783.2,683.3 785.2,685.4 787.2,686.8 789.3,687.8 791.3,688.9 793.3,689.5 795.4,690.4 797.4,690.4 799.4,691.8 801.5,691.7 803.5,692.9 805.5,694.0 807.6,695.7 809.6,696.8 811.6,697.2 813.7,699.6 815.7,700.0 817.7,700.8 819.8,701.3 821.8,700.8 823.8,702.4 825.9,702.4 827.9,703.8 829.9,704.0 832.0,705.2 834.0,707.0 836.0,707.9 838.1,709.3 840.1,709.7 842.1,711.2 844.2,712.0 846.2,712.8 848.2,713.5 850.3,713.2 852.3,714.7 854.3,715.3 856.4,715.2 858.6,716.4 860.9,717.8 863.2,718.6 865.5,718.7 867.7,719.5 870.0,720.3 873.4,722.3 875.7,722.4 877.9,724.3 880.1,725.1 882.4,725.0 884.6,725.0 886.8,725.3 889.1,725.0 891.7,726.9 894.3,728.4 896.9,729.5 898.9,728.7 900.9,729.5 902.9,729.0 905.0,728.9 907.0,728.4 909.2,728.9 911.4,729.9 913.7,730.9 915.9,731.3 918.2,731.7 920.4,732.2 922.6,731.0 924.9,731.3 927.1,731.9 929.3,732.3 931.6,731.6 933.8,732.2 936.1,733.2 938.3,733.9 940.5,733.5 942.8,735.1 945.0,733.5 947.2,731.6 949.5,729.7 951.7,729.0 953.7,728.7 955.7,729.3 957.8,729.4 959.8,729.7 961.8,730.6 964.6,734.8 967.4,740.7 969.6,747.4 971.8,747.4 973.5,742.2 975.2,732.8 977.1,736.4 978.9,732.8 980.8,736.2 983.0,736.0 985.3,732.2 987.5,737.6 989.7,738.4 992.0,738.1 994.2,734.0 996.5,736.4 998.7,736.2 1000.9,726.1 1002.6,730.0 1004.3,726.3 1006.0,731.7 1007.6,730.6 1009.5,730.6 1011.4,726.1 1013.2,726.1 1015.2,730.0 1017.1,727.4 1019.1,733.4 1021.1,734.0 1023.3,733.8 1025.5,733.6 1027.8,733.9 1030.0,733.8 1032.2,733.1 1034.5,733.5 1036.7,731.7 1039.0,728.4 1041.2,730.3 1043.4,734.0 1045.7,733.2 1047.9,732.4 1050.1,732.1 1052.4,731.7 1054.6,733.3 1056.8,736.2 1059.1,737.6 1061.3,737.6 1063.6,737.9 1065.8,739.5 1067.5,745.1 1069.2,745.1 1071.4,725.0 1073.1,736.0 1074.7,738.4 1076.4,749.6 1078.1,749.6 1079.8,741.8 1081.5,726.1 1083.1,740.2 1084.8,742.9 1086.5,738.9 1088.2,722.8 1089.8,740.0 1091.5,742.9 1093.8,739.4 1096.0,728.4 1098.2,739.8 1100.5,741.8 1102.1,738.2 1103.8,727.2 1106.1,737.9 1108.3,740.7 1110.0,740.7 1111.7,731.7 1113.3,737.8 1115.0,731.7 1117.2,737.3 1119.5,737.3 1121.2,737.0 1122.8,729.9 1124.5,733.2 1126.2,729.0 1128.4,729.5 1130.7,728.9 1132.9,730.0 1135.1,730.0 1137.4,730.6 1139.6,730.7 1141.9,731.4 1144.1,730.6 1147.4,736.2 1150.8,728.4 1153.0,730.1 1155.3,728.4 1157.5,732.8 1159.7,736.2 1161.6,736.2 1163.5,723.9 1165.3,723.9 1167.2,729.5 1169.1,727.5 1170.9,734.0 1173.2,733.6 1175.4,721.6 1177.1,729.3 1178.8,725.3 1180.4,735.3 1182.1,736.2 1183.8,736.2 1185.5,727.2 1187.1,735.3 1188.8,727.2 1191.1,727.1 1193.3,727.8 1195.5,727.2 1197.8,732.8 1200.0,734.5 1202.2,722.8 1204.5,735.9 1206.7,739.5 1208.6,737.7 1210.4,724.3 1212.3,723.9 1214.2,735.8 1216.0,726.3 1217.9,738.4 1220.1,735.2 1222.4,720.5 1224.6,730.0 1226.9,731.7 1229.1,729.4 1231.3,718.3 1233.0,718.3 1234.7,718.3 1236.4,718.3 1238.0,718.3 1239.9,728.9 1241.8,720.2 1243.6,730.6 1245.3,727.4 1247.0,716.1 1248.7,725.2 1250.3,717.5 1252.0,734.0 1253.7,734.0 1255.9,713.8 1258.2,720.6 1260.4,713.8 1262.1,725.2 1263.8,729.5 1265.6,731.1 1267.5,715.5 1269.4,717.2 1271.6,731.7 1273.8,693.7 1276.1,718.2 1278.3,725.0 1280.5,717.6 1282.8,689.2 1285.0,719.7 1287.2,727.2 1288.9,717.2 1290.6,673.6 1292.8,705.0 1295.1,702.6 1296.8,692.9 1298.4,668.0 1300.5,677.7 1302.1,677.5 1303.8,656.5 1305.4,661.6 1307.1,647.3 1309.7,697.5 1311.4,694.6 1313.0,675.1 1315.0,646.0 1316.7,673.2 1318.3,680.3 1321.0,653.9 1323.6,656.5 1325.3,675.0 1326.9,679.0 1328.6,675.4 1330.2,664.5 1332.0,667.3 1333.8,664.5 1335.5,664.5 1337.3,663.5 1339.0,655.2 1340.8,653.9 1343.4,653.9 1345.1,668.6 1346.8,675.1 1348.4,671.2 1350.1,649.9 1352.0,660.8 1354.0,649.9 1355.1,704.1 1358.0,661.8 1359.3,632.8 1361.0,641.3 1362.6,631.4 1364.6,672.4 1367.2,628.8 1369.2,599.7 1370.9,618.8 1372.5,615.6 1374.5,603.4 1376.5,572.0 1378.5,596.4 1380.5,602.4 1381.8,569.3 1382.0,548.2 1383.9,548.4 1385.7,540.2 1387.7,549.8 1389.7,552.1 1391.7,524.4 1393.3,545.4 1395.0,554.8 1397.0,554.2 1399.0,529.7 1401.3,558.9 1403.6,561.4 1405.6,521.7 1407.9,525.5 1410.2,512.5 1411.9,530.7 1413.5,531.0 1415.5,530.4 1417.5,511.1 1419.5,528.2 1421.4,531.0 1423.1,529.7 1424.7,511.1 1427.1,518.6 1429.4,517.8 1432.0,538.9 1434.0,542.6 1436.0,542.9 1438.6,556.1 1441.3,561.4 1442.6,587.8 1444.6,593.5 1446.5,593.1 1449.2,618.2 1451.2,623.8 1453.2,623.5 1455.1,634.2 1457.1,635.4 1459.8,653.9 1462.4,653.5 1465.1,652.6 1467.7,654.7 1470.3,657.2 1473.0,654.6 1475.6,653.2 1477.8,654.1 1480.0,654.7 1482.2,655.2 1484.9,653.4 1487.5,649.9 1490.2,648.1 1492.8,644.7 1495.5,640.9 1498.1,636.7 1500.7,635.1 1503.4,634.1 1507.4,632.8 1510.0,630.2 1512.6,626.1 1515.3,620.0 1517.9,615.6 1521.9,598.4 1525.9,577.2 1529.8,552.1 1532.5,533.6 1536.4,516.4 1539.9,496.1 1543.6,476.3 1548.5,446.7 1553.5,421.9 1557.2,397.2 1560.9,372.5 1567.1,352.7 1568.7,348.0 1570.4,333.1 1572.0,328.0 1573.7,328.0 1575.3,321.3 1577.0,320.6 1578.8,312.1 1580.7,298.3 1583.2,278.6 1585.0,269.2 1586.9,253.8 1588.5,257.0 1590.2,253.4 1591.8,256.3 1594.3,243.9 1596.3,243.9 1598.4,236.8 1600.5,236.5 1602.3,235.6 1604.2,226.6 1605.4,236.5 1607.3,228.1 1609.1,216.7 1610.8,215.7 1612.4,210.0 1614.1,209.3 1616.5,194.5 1617.8,177.2 1621.5,172.2 1623.9,174.7 1627.7,187.1 1631.4,194.5 1633.8,219.2 1636.3,253.8 1638.8,281.0 1641.2,266.2 1643.7,243.9 1647.4,231.6 1651.1,214.3 1652.8,217.8 1654.4,214.3 1656.1,214.3 1657.9,220.7 1659.8,219.2 1661.4,232.2 1663.1,232.6 1664.7,243.9 1666.6,243.5 1668.4,239.0 1670.3,233.3 1672.2,221.7 1673.8,222.1 1675.4,216.8 1677.1,216.7 1678.9,225.4 1680.8,229.1 1683.3,248.9 1685.7,298.3 1687.0,347.8 1688.2,397.2 1690.7,434.3 1694.4,454.1 1696.9,458.3 1699.3,464.0 1700.6,478.8 1702.2,484.8 1703.9,485.4 1705.5,491.2 1707.4,506.8 1709.2,515.9 1710.9,520.4 1712.5,512.0 1714.2,513.4 1716.0,526.7 1717.9,533.2 1719.5,536.8 1721.2,532.3 1722.8,535.7 1724.7,538.1 1726.5,538.1 1731.6,520.8 1733.3,519.2 1734.9,511.0 1736.6,510.8 1738.2,509.5 1739.9,487.9 1741.6,487.6 1746.5,500.9 1748.2,505.4 1749.9,504.2 1754.8,517.5 1756.5,517.5 1758.1,506.7 1759.8,507.5 1761.5,511.1 1763.1,504.2 1764.8,498.9 1766.4,484.0 1768.1,479.3 1769.8,484.3 1771.4,479.3 1773.1,484.3 1774.7,484.3 1776.4,490.2 1778.0,484.3 1779.7,487.6 1782.4,517.5 1784.3,517.5 1786.3,507.5 1788.0,512.5 1789.7,504.2 1791.3,496.7 1793.0,474.2 1794.6,467.7 1796.3,458.7 1797.9,441.2 1801.3,391.4 1802.9,371.2 1804.6,341.7 1806.2,325.3 1807.9,301.9 1809.6,340.5 1811.2,358.3 1812.9,376.7 1814.5,371.7 1816.2,391.4 1817.8,391.4 1819.5,374.8 1821.2,374.8 1822.8,363.7 1824.5,342.5 1826.1,331.7 1827.8,311.4 1829.5,275.3 1831.1,276.9 1832.8,262.1 1834.4,262.1 1836.1,284.8 1837.7,282.4 1839.4,301.9 1841.1,321.8 1842.7,321.8 1844.4,314.6 1846.0,298.6 1847.7,296.7 1849.4,285.3 1851.0,248.8 1852.7,252.4 1854.3,242.2 1856.0,175.8 1857.6,92.9 1859.3,146.0 1861.0,175.8 1862.6,213.2 1864.3,238.9 1865.9,251.4 1867.6,252.1 1869.3,294.9 1870.9,305.2 1872.6,316.5 1874.2,275.3 1875.9,340.7 1877.5,361.6 1879.2,348.0 1880.9,308.5 1882.5,268.4 1884.2,209.0 1885.8,169.2 1887.5,186.4 1889.2,185.8 1890.8,142.7 1892.5,59.8 1894.1,18.0 1896.5,18.0 1897.4,109.5 1899.1,242.2 1900.8,341.7 1901.8,461.1 1904.1,408.0 1905.7,415.4 1907.4,408.0 1908.4,507.5" stroke="#000" stroke-width="4.8"/>
</g>
<g stroke="#000" fill="none" stroke-width="4">
<line x1="185.6" y1="16" x2="185.6" y2="1424"/>
<line x1="183.6" y1="18" x2="1913" y2="18"/>
<line x1="1911.2" y1="16" x2="1911.2" y2="1406"/>
<line x1="183.6" y1="1422" x2="1911" y2="1422"/>
<line x1="185.6" y1="1405" x2="185.6" y2="1449" stroke-linecap="round"/>
<line x1="281.4" y1="1422" x2="281.4" y2="1435.5" stroke-linecap="round"/>
<line x1="377.1" y1="1422" x2="377.1" y2="1449" stroke-linecap="round"/>
<line x1="472.9" y1="1422" x2="472.9" y2="1435.5" stroke-linecap="round"/>
<line x1="568.6" y1="1422" x2="568.6" y2="1449" stroke-linecap="round"/>
<line x1="664.4" y1="1422" x2="664.4" y2="1435.5" stroke-linecap="round"/>
<line x1="760.2" y1="1422" x2="760.2" y2="1449" stroke-linecap="round"/>
<line x1="855.9" y1="1422" x2="855.9" y2="1435.5" stroke-linecap="round"/>
<line x1="951.7" y1="1422" x2="951.7" y2="1449" stroke-linecap="round"/>
<line x1="1047.5" y1="1422" x2="1047.5" y2="1435.5" stroke-linecap="round"/>
<line x1="1143.2" y1="1422" x2="1143.2" y2="1449" stroke-linecap="round"/>
<line x1="1239.0" y1="1422" x2="1239.0" y2="1435.5" stroke-linecap="round"/>
<line x1="1334.7" y1="1422" x2="1334.7" y2="1449" stroke-linecap="round"/>
<line x1="1430.5" y1="1422" x2="1430.5" y2="1435.5" stroke-linecap="round"/>
<line x1="1526.3" y1="1422" x2="1526.3" y2="1449" stroke-linecap="round"/>
<line x1="1622.0" y1="1422" x2="1622.0" y2="1435.5" stroke-linecap="round"/>
<line x1="1717.8" y1="1422" x2="1717.8" y2="1449" stroke-linecap="round"/>
<line x1="1813.5" y1="1422" x2="1813.5" y2="1435.5" stroke-linecap="round"/>
<line x1="1909.3" y1="1405" x2="1909.3" y2="1449" stroke-linecap="round"/>
</g>
<text transform="translate(185.6,1510.6) scale(1,1.04)" font-size="56.5" text-anchor="middle">4000</text>
<text transform="translate(377.1,1510.6) scale(1,1.04)" font-size="56.5" text-anchor="middle">3600</text>
<text transform="translate(568.6,1510.6) scale(1,1.04)" font-size="56.5" text-anchor="middle">3200</text>
<text transform="translate(760.2,1510.6) scale(1,1.04)" font-size="56.5" text-anchor="middle">2800</text>
<text transform="translate(951.7,1510.6) scale(1,1.04)" font-size="56.5" text-anchor="middle">2400</text>
<text transform="translate(1143.2,1510.6) scale(1,1.04)" font-size="56.5" text-anchor="middle">2000</text>
<text transform="translate(1334.7,1510.6) scale(1,1.04)" font-size="56.5" text-anchor="middle">1600</text>
<text transform="translate(1526.3,1510.6) scale(1,1.04)" font-size="56.5" text-anchor="middle">1200</text>
<text transform="translate(1717.8,1510.6) scale(1,1.04)" font-size="56.5" text-anchor="middle">800</text>
<text transform="translate(1909.3,1510.6) scale(1,1.04)" font-size="56.5" text-anchor="middle">400</text>
<text x="755.8" y="1631.5" font-size="63.8">Wavenumber (cm</text>
<text x="1284" y="1595.7" font-size="37">-</text>
<text x="1297.5" y="1595.7" font-size="37">1</text>
<text x="1320" y="1631.5" font-size="63.8">)</text>
<text transform="translate(66.9,736.5) rotate(-90)" font-size="65" text-anchor="middle">Absorbance (a.u.)</text>
<line x1="231.5" y1="97.8" x2="371.5" y2="97.8" stroke="#000" stroke-width="4.2"/>
<text transform="translate(386,119.4) scale(1,1.065)" font-size="59.5">Non-activated</text>
<line x1="231.5" y1="173.5" x2="371.5" y2="173.5" stroke="#ff0000" stroke-width="4.2"/>
<text transform="translate(384.8,195.1) scale(1,1.065)" font-size="59.5">Sol. 20% H</text>
<text transform="translate(690.3,218.7) scale(1,1.085)" font-size="35.5">3</text>
<text transform="translate(708.8,195.1) scale(1,1.065)" font-size="59.5">PO</text>
<text transform="translate(794.5,218.7) scale(1,1.085)" font-size="35.5">4</text>
<line x1="231.5" y1="270.3" x2="371.5" y2="270.3" stroke="#00ff00" stroke-width="4.2"/>
<text transform="translate(384.8,291.7) scale(1,1.065)" font-size="59.5">Sol. 40% H</text>
<text transform="translate(690.3,315.3) scale(1,1.085)" font-size="35.5">3</text>
<text transform="translate(708.8,291.7) scale(1,1.065)" font-size="59.5">PO</text>
<text transform="translate(794.5,315.3) scale(1,1.085)" font-size="35.5">4</text>
<line x1="231.5" y1="367.1" x2="371.5" y2="367.1" stroke="#0000ff" stroke-width="4.2"/>
<text transform="translate(384.8,388.2) scale(1,1.065)" font-size="59.5">Sol. 60% H</text>
<text transform="translate(690.3,411.8) scale(1,1.085)" font-size="35.5">3</text>
<text transform="translate(708.8,388.2) scale(1,1.065)" font-size="59.5">PO</text>
<text transform="translate(794.5,411.8) scale(1,1.085)" font-size="35.5">4</text>
<line x1="231.5" y1="463.5" x2="371.5" y2="463.5" stroke="#ff00ff" stroke-width="4.2"/>
<text transform="translate(384.8,484.8) scale(1,1.065)" font-size="59.5">Sol. 80% H</text>
<text transform="translate(690.3,508.4) scale(1,1.085)" font-size="35.5">3</text>
<text transform="translate(708.8,484.8) scale(1,1.065)" font-size="59.5">PO</text>
<text transform="translate(794.5,508.4) scale(1,1.085)" font-size="35.5">4</text>
</svg>
</body></html>
